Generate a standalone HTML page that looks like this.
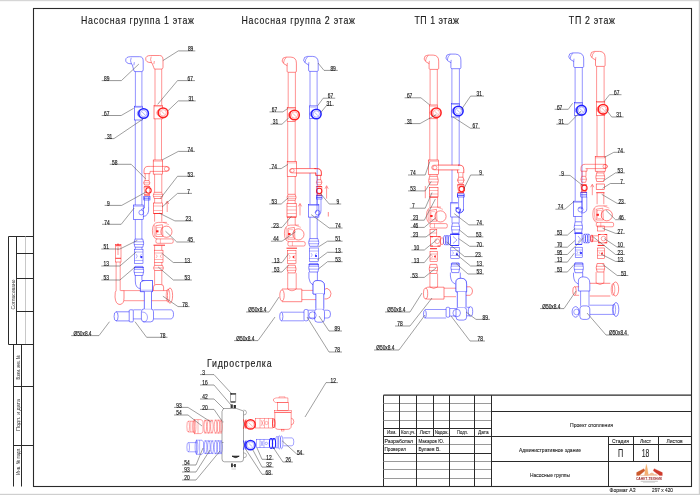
<!DOCTYPE html><html><head><meta charset="utf-8"><style>html,body{margin:0;padding:0;background:#fff;}svg{display:block;will-change:transform;}text{font-family:"Liberation Sans",sans-serif;}</style></head><body>
<svg width="700" height="495" viewBox="0 0 700 495">
<rect width="700" height="495" fill="#fff"/>
<rect x="0" y="0" width="700" height="1.2" stroke="none" stroke-width="0" fill="#d6d6d6"/>
<rect x="698.8" y="0" width="1.2" height="495" stroke="none" stroke-width="0" fill="#cfcfcf"/>
<rect x="0" y="493.8" width="700" height="1.2" stroke="none" stroke-width="0" fill="#cfcfcf"/>
<rect x="33.5" y="8.5" width="658" height="478" stroke="#2a2a2a" stroke-width="1.1" fill="none"/>
<path d="M 33.5 236.5 L 8.5 236.5 L 8.5 344.5 L 33.5 344.5" stroke="#2a2a2a" stroke-width="1" fill="none"/>
<line x1="16.5" y1="236.5" x2="16.5" y2="344.5" stroke="#2a2a2a" stroke-width="1"/>
<line x1="25.5" y1="236.5" x2="25.5" y2="344.5" stroke="#c8c8c8" stroke-width="1"/>
<line x1="16.5" y1="253.5" x2="33.5" y2="253.5" stroke="#2a2a2a" stroke-width="1"/>
<line x1="16.5" y1="278.5" x2="33.5" y2="278.5" stroke="#2a2a2a" stroke-width="1"/>
<line x1="16.5" y1="311.5" x2="33.5" y2="311.5" stroke="#2a2a2a" stroke-width="1"/>
<path d="M 33.5 344.5 L 13.5 344.5 L 13.5 486.5" stroke="#2a2a2a" stroke-width="1" fill="none"/>
<line x1="21.5" y1="344.5" x2="21.5" y2="486.5" stroke="#2a2a2a" stroke-width="1"/>
<line x1="13.5" y1="386.5" x2="33.5" y2="386.5" stroke="#2a2a2a" stroke-width="1"/>
<line x1="13.5" y1="445.5" x2="33.5" y2="445.5" stroke="#2a2a2a" stroke-width="1"/>
<text x="0" y="0" font-size="5.8" fill="#333" text-anchor="middle" textLength="29.8" lengthAdjust="spacingAndGlyphs" transform="translate(14.6,294.5) rotate(-90)">Согласовано</text>
<text x="0" y="0" font-size="5.8" fill="#333" text-anchor="middle" textLength="24.4" lengthAdjust="spacingAndGlyphs" transform="translate(19.6,367.2) rotate(-90)">Взам. инв. №</text>
<text x="0" y="0" font-size="5.8" fill="#333" text-anchor="middle" textLength="32" lengthAdjust="spacingAndGlyphs" transform="translate(19.6,415) rotate(-90)">Подп. и дата</text>
<text x="0" y="0" font-size="5.8" fill="#333" text-anchor="middle" textLength="27.2" lengthAdjust="spacingAndGlyphs" transform="translate(19.6,461.2) rotate(-90)">Инв. № подл.</text>
<line x1="383.5" y1="395.2" x2="691.5" y2="395.2" stroke="#2a2a2a" stroke-width="1.2"/>
<line x1="383.5" y1="395.2" x2="383.5" y2="486.5" stroke="#2a2a2a" stroke-width="1"/>
<line x1="383.5" y1="403.5" x2="491.5" y2="403.5" stroke="#9a9a9a" stroke-width="1"/>
<line x1="383.5" y1="411.5" x2="491.5" y2="411.5" stroke="#9a9a9a" stroke-width="1"/>
<line x1="383.5" y1="420.5" x2="491.5" y2="420.5" stroke="#9a9a9a" stroke-width="1"/>
<line x1="383.5" y1="428.5" x2="491.5" y2="428.5" stroke="#2a2a2a" stroke-width="1"/>
<line x1="383.5" y1="436.5" x2="491.5" y2="436.5" stroke="#2a2a2a" stroke-width="1"/>
<line x1="383.5" y1="444.5" x2="491.5" y2="444.5" stroke="#9a9a9a" stroke-width="1"/>
<line x1="383.5" y1="453.5" x2="491.5" y2="453.5" stroke="#2a2a2a" stroke-width="1"/>
<line x1="383.5" y1="461.5" x2="491.5" y2="461.5" stroke="#9a9a9a" stroke-width="1"/>
<line x1="383.5" y1="469.5" x2="491.5" y2="469.5" stroke="#9a9a9a" stroke-width="1"/>
<line x1="383.5" y1="478.5" x2="491.5" y2="478.5" stroke="#9a9a9a" stroke-width="1"/>
<line x1="399.5" y1="395.2" x2="399.5" y2="436.5" stroke="#2a2a2a" stroke-width="1"/>
<line x1="433.5" y1="395.2" x2="433.5" y2="436.5" stroke="#2a2a2a" stroke-width="1"/>
<line x1="416.5" y1="395.2" x2="416.5" y2="486.5" stroke="#2a2a2a" stroke-width="1"/>
<line x1="449.5" y1="395.2" x2="449.5" y2="486.5" stroke="#2a2a2a" stroke-width="1"/>
<line x1="474.5" y1="395.2" x2="474.5" y2="486.5" stroke="#2a2a2a" stroke-width="1"/>
<line x1="491.5" y1="395.2" x2="491.5" y2="486.5" stroke="#2a2a2a" stroke-width="1"/>
<line x1="491.5" y1="411.5" x2="691.5" y2="411.5" stroke="#2a2a2a" stroke-width="1"/>
<line x1="491.5" y1="436.5" x2="691.5" y2="436.5" stroke="#2a2a2a" stroke-width="1"/>
<line x1="608.5" y1="444.5" x2="691.5" y2="444.5" stroke="#2a2a2a" stroke-width="1"/>
<line x1="491.5" y1="461.5" x2="691.5" y2="461.5" stroke="#2a2a2a" stroke-width="1"/>
<line x1="608.5" y1="436.5" x2="608.5" y2="486.5" stroke="#2a2a2a" stroke-width="1"/>
<line x1="633.5" y1="436.5" x2="633.5" y2="461.5" stroke="#2a2a2a" stroke-width="1"/>
<line x1="658.5" y1="436.5" x2="658.5" y2="461.5" stroke="#2a2a2a" stroke-width="1"/>
<text x="386.95" y="434.4" font-size="5.6" text-anchor="start" fill="#222" font-weight="normal" textLength="9.5" lengthAdjust="spacingAndGlyphs" stroke="#222" stroke-width="0.1">Изм.</text>
<text x="401.05" y="434.4" font-size="5.6" text-anchor="start" fill="#222" font-weight="normal" textLength="14.5" lengthAdjust="spacingAndGlyphs" stroke="#222" stroke-width="0.1">Кол.уч.</text>
<text x="419.75" y="434.4" font-size="5.6" text-anchor="start" fill="#222" font-weight="normal" textLength="10.5" lengthAdjust="spacingAndGlyphs" stroke="#222" stroke-width="0.1">Лист</text>
<text x="434.7" y="434.4" font-size="5.6" text-anchor="start" fill="#222" font-weight="normal" textLength="14" lengthAdjust="spacingAndGlyphs" stroke="#222" stroke-width="0.1">№док.</text>
<text x="457" y="434.4" font-size="5.6" text-anchor="start" fill="#222" font-weight="normal" textLength="11" lengthAdjust="spacingAndGlyphs" stroke="#222" stroke-width="0.1">Подп.</text>
<text x="478.05" y="434.4" font-size="5.6" text-anchor="start" fill="#222" font-weight="normal" textLength="10.5" lengthAdjust="spacingAndGlyphs" stroke="#222" stroke-width="0.1">Дата</text>
<text x="384.5" y="443" font-size="5.6" text-anchor="start" fill="#222" font-weight="normal" textLength="28.5" lengthAdjust="spacingAndGlyphs" stroke="#222" stroke-width="0.1">Разработал</text>
<text x="418.5" y="443" font-size="5.6" text-anchor="start" fill="#222" font-weight="normal" textLength="25.5" lengthAdjust="spacingAndGlyphs" stroke="#222" stroke-width="0.1">Макаров Ю.</text>
<text x="384.5" y="451.2" font-size="5.6" text-anchor="start" fill="#222" font-weight="normal" textLength="21.5" lengthAdjust="spacingAndGlyphs" stroke="#222" stroke-width="0.1">Проверил</text>
<text x="418.5" y="451.2" font-size="5.6" text-anchor="start" fill="#222" font-weight="normal" textLength="22" lengthAdjust="spacingAndGlyphs" stroke="#222" stroke-width="0.1">Булаев В.</text>
<text x="570" y="426.6" font-size="5.6" text-anchor="start" fill="#222" font-weight="normal" textLength="43" lengthAdjust="spacingAndGlyphs" stroke="#222" stroke-width="0.1">Проект отопления</text>
<text x="519" y="451.5" font-size="5.6" text-anchor="start" fill="#222" font-weight="normal" textLength="62" lengthAdjust="spacingAndGlyphs" stroke="#222" stroke-width="0.1">Административное здание</text>
<text x="530" y="476.7" font-size="5.6" text-anchor="start" fill="#222" font-weight="normal" textLength="40" lengthAdjust="spacingAndGlyphs" stroke="#222" stroke-width="0.1">Насосные группы</text>
<text x="612" y="443" font-size="5.6" text-anchor="start" fill="#222" font-weight="normal" textLength="17" lengthAdjust="spacingAndGlyphs" stroke="#222" stroke-width="0.1">Стадия</text>
<text x="640" y="443" font-size="5.6" text-anchor="start" fill="#222" font-weight="normal" textLength="11" lengthAdjust="spacingAndGlyphs" stroke="#222" stroke-width="0.1">Лист</text>
<text x="666.6" y="443" font-size="5.6" text-anchor="start" fill="#222" font-weight="normal" textLength="16" lengthAdjust="spacingAndGlyphs" stroke="#222" stroke-width="0.1">Листов</text>
<text x="618" y="457.3" font-size="10" text-anchor="start" fill="#222" font-weight="normal" textLength="5.2" lengthAdjust="spacingAndGlyphs" stroke="#222" stroke-width="0.1">П</text>
<text x="641.7" y="457.3" font-size="10" text-anchor="start" fill="#222" font-weight="normal" textLength="7.6" lengthAdjust="spacingAndGlyphs" stroke="#222" stroke-width="0.1">18</text>
<text x="609.5" y="492.4" font-size="5.6" text-anchor="start" fill="#222" font-weight="normal" textLength="26" lengthAdjust="spacingAndGlyphs" stroke="#222" stroke-width="0.1">Формат А3</text>
<text x="652" y="492.4" font-size="5.6" text-anchor="start" fill="#222" font-weight="normal" textLength="21" lengthAdjust="spacingAndGlyphs" stroke="#222" stroke-width="0.1">297 x 420</text>
<path d="M 646.4 464.3 L 645.4 469 L 644.6 475.4 L 648.4 475.4 L 647.4 469 Z" stroke="#f0a860" stroke-width="0.3" fill="#f4b070"/>
<path d="M 636.6 472.6 L 643.9 468.7 L 644.9 470.8 L 639.2 475.6 L 636.6 475.6 Z" stroke="#c85028" stroke-width="0.3" fill="#cc5a2c"/>
<path d="M 662.3 472.6 L 654.2 468.7 L 653.3 470.8 L 659.6 475.6 L 662.3 475.6 Z" stroke="#c83428" stroke-width="0.3" fill="#d03a2c"/>
<path d="M 640 475.6 L 657.5 475.6 L 656 474.2 L 654.5 474.4 Q 652 471.4 649.5 474.2 L 648 474.6 Z" stroke="#eeb088" stroke-width="0.3" fill="#f2bc98"/>
<text x="636" y="479.6" font-size="3.6" text-anchor="start" fill="#9a2a2a" font-weight="bold" textLength="26" lengthAdjust="spacingAndGlyphs">САНКТ-ТЕХНИК</text>
<line x1="640.7" y1="481.3" x2="657.9" y2="481.3" stroke="#aaa" stroke-width="0.7"/>
<line x1="643" y1="482.4" x2="655" y2="482.4" stroke="#bbb" stroke-width="0.5"/>
<text x="101.25" y="24.4" font-size="11" fill="#1a1a1a" stroke="#1a1a1a" stroke-width="0.15" transform="scale(0.8 1)" textLength="141.25" lengthAdjust="spacing">Насосная группа 1 этаж</text>
<text x="301.75" y="24.4" font-size="11" fill="#1a1a1a" stroke="#1a1a1a" stroke-width="0.15" transform="scale(0.8 1)" textLength="142" lengthAdjust="spacing">Насосная группа 2 этаж</text>
<text x="518.12" y="24.5" font-size="11" fill="#1a1a1a" stroke="#1a1a1a" stroke-width="0.15" transform="scale(0.8 1)" textLength="55.62" lengthAdjust="spacing">ТП 1 этаж</text>
<text x="711" y="24.5" font-size="11" fill="#1a1a1a" stroke="#1a1a1a" stroke-width="0.15" transform="scale(0.8 1)" textLength="57.75" lengthAdjust="spacing">ТП 2 этаж</text>
<text x="258.75" y="366.6" font-size="11" fill="#1a1a1a" stroke="#1a1a1a" stroke-width="0.15" transform="scale(0.8 1)" textLength="80.75" lengthAdjust="spacing">Гидрострелка</text>
<path d="M 131.2 63.8 Q 125.7 63.8 125.7 60.1 Q 125.7 56.7 130.7 56.7 L 139.7 56.7 Q 143.2 56.7 143.2 60.9 L 143.2 69.8 Q 143.2 71.6 141.4 71.6 L 135 71.6 Q 133.7 71.6 133.7 69.8 L 132.3 64.9 Q 132 64 131.2 63.8" stroke="#2020ff" stroke-width="0.54" fill="none"/>
<path d="M 131.2 57.8 Q 129.8 60.7 131.5 64" stroke="#2020ff" stroke-width="0.48" fill="none"/>
<line x1="134.3" y1="62.2" x2="133.9" y2="65.3" stroke="#2020ff" stroke-width="0.48"/>
<line x1="135.4" y1="71.6" x2="135.4" y2="106.2" stroke="#2020ff" stroke-width="0.48"/>
<line x1="141.9" y1="71.6" x2="141.9" y2="106.2" stroke="#2020ff" stroke-width="0.48"/>
<rect x="134.5" y="106.2" width="8.1" height="13.8" stroke="#2020ff" stroke-width="0.54" fill="none"/>
<line x1="134.5" y1="107.4" x2="142.6" y2="107.4" stroke="#2020ff" stroke-width="0.34"/>
<circle cx="143.6" cy="113.5" r="4.8" stroke="#2020ff" stroke-width="1.56" fill="#fff"/>
<path d="M 139.6 109.9 Q 135.1 113.5 139.6 117.1" stroke="#2020ff" stroke-width="0.54" fill="none"/>
<path d="M 140.4 109.6 Q 136.6 113.5 140.4 117.4" stroke="#2020ff" stroke-width="0.41" fill="none"/>
<circle cx="143.6" cy="113.5" r="3.2" stroke="#2020ff" stroke-width="0.34" fill="none"/>
<line x1="142" y1="111.9" x2="145.4" y2="115.3" stroke="#2020ff" stroke-width="0.34"/>
<line x1="135.3" y1="120" x2="135.3" y2="205" stroke="#2020ff" stroke-width="0.48"/>
<line x1="141.9" y1="120" x2="141.9" y2="205" stroke="#2020ff" stroke-width="0.48"/>
<rect x="133.7" y="205" width="9.5" height="14.7" stroke="#2020ff" stroke-width="0.54" fill="none"/>
<line x1="133.7" y1="206.2" x2="143.2" y2="206.2" stroke="#2020ff" stroke-width="0.34"/>
<path d="M 144.5 197 L 144.5 208 M 148.6 197 L 148.6 207" stroke="#2020ff" stroke-width="0.48" fill="none"/>
<path d="M 148.6 207 Q 149.5 216 143 216.5 M 144.5 208 Q 143 209 141 209.5" stroke="#2020ff" stroke-width="0.54" fill="none"/>
<circle cx="141.3" cy="212.5" r="2.4" stroke="#2020ff" stroke-width="0.48" fill="none"/>
<line x1="135.3" y1="219.7" x2="135.3" y2="239.1" stroke="#2020ff" stroke-width="0.48"/>
<line x1="141.9" y1="219.7" x2="141.9" y2="239.1" stroke="#2020ff" stroke-width="0.48"/>
<path d="M 134.9 239.1 L 142.8 239.1 Q 144.6 243.15 142.8 247.2 L 134.9 247.2 Q 133.1 243.15 134.9 239.1 Z" stroke="#2020ff" stroke-width="0.54" fill="none"/>
<line x1="134.1" y1="241.8" x2="143.6" y2="241.8" stroke="#2020ff" stroke-width="0.41"/>
<line x1="134.1" y1="244.5" x2="143.6" y2="244.5" stroke="#2020ff" stroke-width="0.41"/>
<line x1="135.3" y1="247.2" x2="135.3" y2="249.2" stroke="#2020ff" stroke-width="0.48"/>
<line x1="141.9" y1="247.2" x2="141.9" y2="249.2" stroke="#2020ff" stroke-width="0.48"/>
<rect x="134.5" y="249.2" width="8.5" height="14.1" stroke="#2020ff" stroke-width="0.48" fill="none"/>
<path d="M 134.5 252 L 143 252 M 134.5 260.5 L 143 260.5 M 136 254 Q 138.5 256 136 258.5 M 141.5 254 Q 139 256 141.5 258.5" stroke="#2020ff" stroke-width="0.34" fill="none"/>
<circle cx="141.4" cy="257" r="1.1" stroke="#2020ff" stroke-width="0" fill="#2020ff"/>
<path d="M 134.9 266.4 L 142.8 266.4 Q 144.6 270.95 142.8 275.5 L 134.9 275.5 Q 133.1 270.95 134.9 266.4 Z" stroke="#2020ff" stroke-width="0.54" fill="none"/>
<line x1="134.1" y1="269.43" x2="143.6" y2="269.43" stroke="#2020ff" stroke-width="0.41"/>
<line x1="134.1" y1="272.47" x2="143.6" y2="272.47" stroke="#2020ff" stroke-width="0.41"/>
<line x1="133.9" y1="267.6" x2="143.8" y2="267.6" stroke="#2020ff" stroke-width="0.75"/>
<path d="M 135.3 275.5 L 135.3 281 Q 135.3 288.6 141 288.6 L 144.4 288.6" stroke="#2020ff" stroke-width="0.54" fill="none"/>
<path d="M 141.9 275.5 L 141.9 280.5 L 144.4 280.5" stroke="#2020ff" stroke-width="0.54" fill="none"/>
<path d="M 140.4 291.6 L 140.4 284 Q 140.4 280.5 146 280.5 L 152.5 280.5 L 152.5 291.6 Z" stroke="#2020ff" stroke-width="0.54" fill="none"/>
<line x1="140.4" y1="290.2" x2="152.5" y2="290.2" stroke="#2020ff" stroke-width="0.34"/>
<line x1="144.4" y1="291.6" x2="144.4" y2="308.8" stroke="#2020ff" stroke-width="0.48"/>
<line x1="151.5" y1="291.6" x2="151.5" y2="308.8" stroke="#2020ff" stroke-width="0.48"/>
<line x1="116.1" y1="311.8" x2="129.2" y2="311.8" stroke="#2020ff" stroke-width="0.54"/>
<line x1="116.1" y1="320.9" x2="129.2" y2="320.9" stroke="#2020ff" stroke-width="0.54"/>
<ellipse cx="116.1" cy="316.35" rx="2" ry="4.55" stroke="#2020ff" stroke-width="0.54" fill="none"/>
<rect x="129.2" y="309.8" width="4.1" height="12.1" stroke="#2020ff" stroke-width="0.54" fill="none" rx="1"/>
<line x1="133.3" y1="309.8" x2="141.4" y2="309.8" stroke="#2020ff" stroke-width="0.48"/>
<line x1="133.3" y1="318.9" x2="141.4" y2="318.9" stroke="#2020ff" stroke-width="0.48"/>
<rect x="141.4" y="308.8" width="12.1" height="13.1" stroke="#2020ff" stroke-width="0.54" fill="none" rx="3"/>
<path d="M 142 312 Q 147 312 147.5 317 Q 147.5 322 143 322" stroke="#2020ff" stroke-width="0.41" fill="none"/>
<line x1="153.5" y1="309.8" x2="170.5" y2="309.8" stroke="#2020ff" stroke-width="0.48"/>
<line x1="153.5" y1="318.9" x2="170.5" y2="318.9" stroke="#2020ff" stroke-width="0.48"/>
<path d="M 170.5 309.8 Q 173.5 309.8 173.5 314.3 Q 173.5 318.9 170.5 318.9" stroke="#2020ff" stroke-width="0.54" fill="none"/>
<path d="M 151.2 62.6 Q 145.7 62.6 145.7 58.9 Q 145.7 55.5 150.7 55.5 L 159.5 55.5 Q 163 55.5 163 59.7 L 163 67.3 Q 163 69.1 161.2 69.1 L 155 69.1 Q 153.7 69.1 153.7 67.3 L 152.3 63.7 Q 152 62.8 151.2 62.6" stroke="#ff2020" stroke-width="0.54" fill="none"/>
<path d="M 151.2 56.6 Q 149.8 59.5 151.5 62.8" stroke="#ff2020" stroke-width="0.48" fill="none"/>
<line x1="154.3" y1="61" x2="153.9" y2="64.1" stroke="#ff2020" stroke-width="0.48"/>
<line x1="155" y1="69.1" x2="155" y2="105.4" stroke="#ff2020" stroke-width="0.48"/>
<line x1="161.7" y1="69.1" x2="161.7" y2="105.4" stroke="#ff2020" stroke-width="0.48"/>
<rect x="154" y="105.4" width="8.6" height="13.5" stroke="#ff2020" stroke-width="0.54" fill="none"/>
<line x1="154" y1="106.6" x2="162.6" y2="106.6" stroke="#ff2020" stroke-width="0.34"/>
<circle cx="163.1" cy="112.8" r="4.8" stroke="#ff2020" stroke-width="1.56" fill="#fff"/>
<path d="M 159.1 109.2 Q 154.6 112.8 159.1 116.4" stroke="#ff2020" stroke-width="0.54" fill="none"/>
<path d="M 159.9 108.9 Q 156.1 112.8 159.9 116.7" stroke="#ff2020" stroke-width="0.41" fill="none"/>
<circle cx="163.1" cy="112.8" r="3.2" stroke="#ff2020" stroke-width="0.34" fill="none"/>
<line x1="161.5" y1="111.2" x2="164.9" y2="114.6" stroke="#ff2020" stroke-width="0.34"/>
<line x1="155" y1="118.9" x2="155" y2="160" stroke="#ff2020" stroke-width="0.48"/>
<line x1="161.5" y1="118.9" x2="161.5" y2="160" stroke="#ff2020" stroke-width="0.48"/>
<rect x="153.2" y="160" width="9.5" height="14.1" stroke="#ff2020" stroke-width="0.54" fill="none"/>
<line x1="153.2" y1="161.2" x2="162.7" y2="161.2" stroke="#ff2020" stroke-width="0.34"/>
<line x1="150.5" y1="166.4" x2="166" y2="166.4" stroke="#ff2020" stroke-width="0.48"/>
<line x1="150.5" y1="171.4" x2="166" y2="171.4" stroke="#ff2020" stroke-width="0.48"/>
<path d="M 166 166.4 Q 169.5 166.4 169.5 168.9 Q 169.5 171.4 166 171.4" stroke="#ff2020" stroke-width="0.54" fill="none"/>
<circle cx="166.5" cy="168.9" r="2.2" stroke="#ff2020" stroke-width="0.41" fill="none"/>
<path d="M 150.5 166.4 L 148 166.4 Q 144 166.4 144 171 L 144 173.6 L 150 173.6 L 150 171.4 L 150.5 171.4" stroke="#ff2020" stroke-width="0.54" fill="none"/>
<line x1="145.2" y1="173.6" x2="145.2" y2="180.6" stroke="#ff2020" stroke-width="0.48"/>
<line x1="149.1" y1="173.6" x2="149.1" y2="180.6" stroke="#ff2020" stroke-width="0.48"/>
<path d="M 144.6 180.6 L 149 180.6 Q 150.8 182.8 149 185 L 144.6 185 Q 142.8 182.8 144.6 180.6 Z" stroke="#ff2020" stroke-width="0.54" fill="none"/>
<line x1="143.8" y1="182.8" x2="149.8" y2="182.8" stroke="#ff2020" stroke-width="0.41"/>
<line x1="144" y1="186.8" x2="150" y2="186.8" stroke="#ff2020" stroke-width="1.02"/>
<circle cx="148.5" cy="190.5" r="2.7" stroke="#ff2020" stroke-width="1.09" fill="none"/>
<path d="M 144 186.8 L 145 195 M 150 186.8 L 149 195" stroke="#ff2020" stroke-width="0.41" fill="none"/>
<line x1="144" y1="195" x2="150" y2="195" stroke="#ff2020" stroke-width="1.02"/>
<rect x="143.8" y="196.4" width="6.2" height="3.6" stroke="#2020ff" stroke-width="0.54" fill="none"/>
<line x1="143.8" y1="198.2" x2="150" y2="198.2" stroke="#2020ff" stroke-width="0.68"/>
<line x1="154.6" y1="174.1" x2="154.6" y2="192.3" stroke="#ff2020" stroke-width="0.48"/>
<line x1="161.8" y1="174.1" x2="161.8" y2="192.3" stroke="#ff2020" stroke-width="0.48"/>
<path d="M 154.2 192.3 L 161.7 192.3 Q 163.5 195.4 161.7 198.5 L 154.2 198.5 Q 152.4 195.4 154.2 192.3 Z" stroke="#ff2020" stroke-width="0.54" fill="none"/>
<line x1="153.4" y1="194.37" x2="162.5" y2="194.37" stroke="#ff2020" stroke-width="0.41"/>
<line x1="153.4" y1="196.43" x2="162.5" y2="196.43" stroke="#ff2020" stroke-width="0.41"/>
<line x1="154.6" y1="198.5" x2="154.6" y2="203" stroke="#ff2020" stroke-width="0.48"/>
<line x1="161.8" y1="198.5" x2="161.8" y2="203" stroke="#ff2020" stroke-width="0.48"/>
<rect x="153.6" y="203" width="8.8" height="10.5" stroke="#ff2020" stroke-width="0.54" fill="none"/>
<path d="M 153.6 206 L 162.4 206 M 153.6 210.5 L 162.4 210.5" stroke="#ff2020" stroke-width="0.34" fill="none"/>
<line x1="153.6" y1="213.5" x2="162.4" y2="213.5" stroke="#ff2020" stroke-width="0.82"/>
<line x1="167.2" y1="202" x2="167.2" y2="212" stroke="#ff2020" stroke-width="0.48"/>
<path d="M 165.6 204 L 167.2 201 L 168.8 204" stroke="#ff2020" stroke-width="0.48" fill="none"/>
<line x1="154.6" y1="213.5" x2="154.6" y2="221.7" stroke="#ff2020" stroke-width="0.48"/>
<line x1="161.8" y1="213.5" x2="161.8" y2="221.7" stroke="#ff2020" stroke-width="0.48"/>
<path d="M 166.9 222.4 L 158.4 222.4 Q 152.4 222.4 152.4 230.7 Q 152.4 238.9 157.4 238.9" stroke="#ff2020" stroke-width="0.48" fill="none"/>
<path d="M 154.4 224.7 Q 153.4 231.7 154.9 237.7" stroke="#ff2020" stroke-width="0.34" fill="none"/>
<path d="M 155.9 225.7 L 162.4 224.7 L 162.9 236.5 L 155.9 236.5 Z" stroke="#ff2020" stroke-width="0.48" fill="none"/>
<rect x="156.9" y="227.2" width="4.5" height="7.5" stroke="#ff2020" stroke-width="0.27" fill="none"/>
<rect x="156.1" y="230.3" width="2.4" height="2" stroke="#ff2020" stroke-width="0" fill="#ff2020"/>
<circle cx="166.4" cy="231.7" r="5.6" stroke="#ff2020" stroke-width="0.54" fill="none"/>
<line x1="163.2" y1="222.4" x2="168.9" y2="224.7" stroke="#ff2020" stroke-width="0.34"/>
<rect x="155.9" y="238.9" width="17.3" height="4.4" stroke="#ff2020" stroke-width="0.48" fill="none" rx="1.5"/>
<line x1="160.4" y1="238.9" x2="160.4" y2="243.3" stroke="#ff2020" stroke-width="0.34"/>
<line x1="162.9" y1="228.2" x2="169.9" y2="235.2" stroke="#505050" stroke-width="0"/>
<line x1="153.5" y1="245.2" x2="165" y2="245.2" stroke="#ff2020" stroke-width="0.95"/>
<line x1="154.6" y1="245.5" x2="154.6" y2="250.2" stroke="#ff2020" stroke-width="0.48"/>
<line x1="161.8" y1="245.5" x2="161.8" y2="250.2" stroke="#ff2020" stroke-width="0.48"/>
<rect x="154.5" y="250.2" width="8.5" height="12.1" stroke="#ff2020" stroke-width="0.48" fill="none"/>
<path d="M 154.5 253 L 163 253 M 154.5 259.5 L 163 259.5 M 156 254.5 Q 158.5 256 156 258 M 161.5 254.5 Q 159 256 161.5 258" stroke="#ff2020" stroke-width="0.34" fill="none"/>
<line x1="154.6" y1="262.3" x2="154.6" y2="265.4" stroke="#ff2020" stroke-width="0.48"/>
<line x1="161.8" y1="262.3" x2="161.8" y2="265.4" stroke="#ff2020" stroke-width="0.48"/>
<path d="M 154.5 265.4 L 162.5 265.4 Q 164.3 267.95 162.5 270.5 L 154.5 270.5 Q 152.7 267.95 154.5 265.4 Z" stroke="#ff2020" stroke-width="0.54" fill="none"/>
<line x1="153.7" y1="267.95" x2="163.3" y2="267.95" stroke="#ff2020" stroke-width="0.41"/>
<line x1="154.6" y1="270.5" x2="154.6" y2="284.5" stroke="#ff2020" stroke-width="0.48"/>
<line x1="161.8" y1="270.5" x2="161.8" y2="284.5" stroke="#ff2020" stroke-width="0.48"/>
<path d="M 153.5 290.6 L 153.5 287 Q 153.5 284.5 156 284.5 L 161 284.5 Q 163.6 284.5 163.6 287 L 163.6 290.6" stroke="#ff2020" stroke-width="0.54" fill="none"/>
<line x1="124" y1="290.6" x2="167.6" y2="290.6" stroke="#ff2020" stroke-width="0.48"/>
<line x1="124" y1="300.7" x2="167.6" y2="300.7" stroke="#ff2020" stroke-width="0.48"/>
<path d="M 124 290.6 L 120.5 290.6 M 116.1 290.6 Q 115 291 115 297 Q 115.5 304.5 120 304.5 Q 124 304 124 298 L 124 290.6" stroke="#ff2020" stroke-width="0.54" fill="none"/>
<ellipse cx="170" cy="295.6" rx="2.6" ry="7.6" stroke="#ff2020" stroke-width="0.54" fill="none"/>
<ellipse cx="168" cy="295.6" rx="1.8" ry="6.6" stroke="#ff2020" stroke-width="0.41" fill="none"/>
<line x1="116.1" y1="262" x2="116.1" y2="290.6" stroke="#ff2020" stroke-width="0.48"/>
<line x1="120.2" y1="262" x2="120.2" y2="290.6" stroke="#ff2020" stroke-width="0.48"/>
<rect x="115.5" y="244.5" width="5.5" height="17.5" stroke="#ff2020" stroke-width="0.48" fill="none"/>
<line x1="115.5" y1="245.2" x2="121" y2="245.2" stroke="#ff2020" stroke-width="0.88"/>
<line x1="115.5" y1="258.3" x2="121" y2="258.3" stroke="#ff2020" stroke-width="0.88"/>
<line x1="118" y1="249" x2="118" y2="255" stroke="#ff2020" stroke-width="0.48"/>
<line x1="118" y1="244.5" x2="118" y2="250" stroke="#ff2020" stroke-width="0.48"/>
<path d="M 116.4 246.5 L 118 243.5 L 119.6 246.5" stroke="#ff2020" stroke-width="0.48" fill="none"/>
<path d="M 140.4 291.6 L 140.4 284 Q 140.4 280.5 146 280.5 L 152.5 280.5 L 152.5 291.6 Z" stroke="#2020ff" stroke-width="0.54" fill="#fff"/>
<line x1="140.4" y1="290.2" x2="152.5" y2="290.2" stroke="#2020ff" stroke-width="0.34"/>
<rect x="144.4" y="291.6" width="7.1" height="17.2" stroke="none" stroke-width="0" fill="#fff"/>
<line x1="144.4" y1="291.6" x2="144.4" y2="308.8" stroke="#2020ff" stroke-width="0.48"/>
<line x1="151.5" y1="291.6" x2="151.5" y2="308.8" stroke="#2020ff" stroke-width="0.48"/>
<line x1="101.7" y1="80.6" x2="121.4" y2="80.6" stroke="#505050" stroke-width="0.6"/>
<line x1="121.4" y1="80.6" x2="138.9" y2="64" stroke="#505050" stroke-width="0.55"/>
<text x="104" y="80.8" font-size="6.6" fill="#1a1a1a" stroke="#1a1a1a" stroke-width="0.18" textLength="5.4" lengthAdjust="spacingAndGlyphs">89</text>
<line x1="178.3" y1="50.9" x2="195.3" y2="50.9" stroke="#505050" stroke-width="0.6"/>
<line x1="178.3" y1="50.9" x2="162.9" y2="60.6" stroke="#505050" stroke-width="0.55"/>
<text x="187.9" y="51.1" font-size="6.6" fill="#1a1a1a" stroke="#1a1a1a" stroke-width="0.18" textLength="5.4" lengthAdjust="spacingAndGlyphs">89</text>
<line x1="177.5" y1="80.6" x2="195" y2="80.6" stroke="#505050" stroke-width="0.6"/>
<line x1="177.5" y1="80.6" x2="157.7" y2="104.3" stroke="#505050" stroke-width="0.55"/>
<text x="187.6" y="80.8" font-size="6.6" fill="#1a1a1a" stroke="#1a1a1a" stroke-width="0.18" textLength="5.4" lengthAdjust="spacingAndGlyphs">67</text>
<line x1="178.3" y1="100.9" x2="195.8" y2="100.9" stroke="#505050" stroke-width="0.6"/>
<line x1="178.3" y1="100.9" x2="168" y2="110.7" stroke="#505050" stroke-width="0.55"/>
<text x="188.4" y="101.1" font-size="6.6" fill="#1a1a1a" stroke="#1a1a1a" stroke-width="0.18" textLength="5.4" lengthAdjust="spacingAndGlyphs">31</text>
<line x1="101.7" y1="115.5" x2="121.2" y2="115.5" stroke="#505050" stroke-width="0.6"/>
<line x1="121.2" y1="115.5" x2="133.7" y2="108.3" stroke="#505050" stroke-width="0.55"/>
<text x="104" y="115.7" font-size="6.6" fill="#1a1a1a" stroke="#1a1a1a" stroke-width="0.18" textLength="5.4" lengthAdjust="spacingAndGlyphs">67</text>
<line x1="104.6" y1="138.6" x2="114" y2="138.6" stroke="#505050" stroke-width="0.6"/>
<line x1="114" y1="138.6" x2="143.2" y2="118.9" stroke="#505050" stroke-width="0.55"/>
<text x="106.9" y="138.8" font-size="6.6" fill="#1a1a1a" stroke="#1a1a1a" stroke-width="0.18" textLength="5.4" lengthAdjust="spacingAndGlyphs">31</text>
<line x1="178.3" y1="151.4" x2="195" y2="151.4" stroke="#505050" stroke-width="0.6"/>
<line x1="178.3" y1="151.4" x2="162" y2="160" stroke="#505050" stroke-width="0.55"/>
<text x="187.6" y="151.6" font-size="6.6" fill="#1a1a1a" stroke="#1a1a1a" stroke-width="0.18" textLength="5.4" lengthAdjust="spacingAndGlyphs">74</text>
<line x1="109.7" y1="164.3" x2="131.2" y2="164.3" stroke="#505050" stroke-width="0.6"/>
<line x1="131.2" y1="164.3" x2="145.7" y2="178.9" stroke="#505050" stroke-width="0.55"/>
<text x="112" y="164.5" font-size="6.6" fill="#1a1a1a" stroke="#1a1a1a" stroke-width="0.18" textLength="5.4" lengthAdjust="spacingAndGlyphs">58</text>
<line x1="177.5" y1="176.3" x2="195" y2="176.3" stroke="#505050" stroke-width="0.6"/>
<line x1="177.5" y1="176.3" x2="160.3" y2="198.6" stroke="#505050" stroke-width="0.55"/>
<text x="187.6" y="176.5" font-size="6.6" fill="#1a1a1a" stroke="#1a1a1a" stroke-width="0.18" textLength="5.4" lengthAdjust="spacingAndGlyphs">53</text>
<line x1="104.6" y1="205.4" x2="121.7" y2="205.4" stroke="#505050" stroke-width="0.6"/>
<line x1="121.7" y1="205.4" x2="146.6" y2="191.7" stroke="#505050" stroke-width="0.55"/>
<text x="106.9" y="205.6" font-size="6.6" fill="#1a1a1a" stroke="#1a1a1a" stroke-width="0.18" textLength="2.7" lengthAdjust="spacingAndGlyphs">9</text>
<line x1="177.5" y1="193.4" x2="192" y2="193.4" stroke="#505050" stroke-width="0.6"/>
<line x1="177.5" y1="193.4" x2="162" y2="207.1" stroke="#505050" stroke-width="0.55"/>
<text x="187.3" y="193.6" font-size="6.6" fill="#1a1a1a" stroke="#1a1a1a" stroke-width="0.18" textLength="2.7" lengthAdjust="spacingAndGlyphs">7</text>
<line x1="174.9" y1="220.9" x2="193" y2="220.9" stroke="#505050" stroke-width="0.6"/>
<line x1="174.9" y1="220.9" x2="159.4" y2="213.2" stroke="#505050" stroke-width="0.55"/>
<text x="185.6" y="221.1" font-size="6.6" fill="#1a1a1a" stroke="#1a1a1a" stroke-width="0.18" textLength="5.4" lengthAdjust="spacingAndGlyphs">23</text>
<line x1="102" y1="224.3" x2="121.2" y2="224.3" stroke="#505050" stroke-width="0.6"/>
<line x1="121.2" y1="224.3" x2="134.2" y2="208" stroke="#505050" stroke-width="0.55"/>
<text x="104.3" y="224.5" font-size="6.6" fill="#1a1a1a" stroke="#1a1a1a" stroke-width="0.18" textLength="5.4" lengthAdjust="spacingAndGlyphs">74</text>
<line x1="176.8" y1="242" x2="195" y2="242" stroke="#505050" stroke-width="0.6"/>
<line x1="176.8" y1="242" x2="165.5" y2="231.2" stroke="#505050" stroke-width="0.55"/>
<text x="187.6" y="242.2" font-size="6.6" fill="#1a1a1a" stroke="#1a1a1a" stroke-width="0.18" textLength="5.4" lengthAdjust="spacingAndGlyphs">45</text>
<line x1="101.3" y1="249" x2="119.9" y2="249" stroke="#505050" stroke-width="0.6"/>
<line x1="119.9" y1="249" x2="137.3" y2="240.4" stroke="#505050" stroke-width="0.55"/>
<text x="103.6" y="249.2" font-size="6.6" fill="#1a1a1a" stroke="#1a1a1a" stroke-width="0.18" textLength="5.4" lengthAdjust="spacingAndGlyphs">51</text>
<line x1="101.3" y1="266" x2="119.9" y2="266" stroke="#505050" stroke-width="0.6"/>
<line x1="119.9" y1="266" x2="136.2" y2="252" stroke="#505050" stroke-width="0.55"/>
<text x="103.6" y="266.2" font-size="6.6" fill="#1a1a1a" stroke="#1a1a1a" stroke-width="0.18" textLength="5.4" lengthAdjust="spacingAndGlyphs">13</text>
<line x1="101.3" y1="280" x2="119.9" y2="280" stroke="#505050" stroke-width="0.6"/>
<line x1="119.9" y1="280" x2="135" y2="267.1" stroke="#505050" stroke-width="0.55"/>
<text x="103.6" y="280.2" font-size="6.6" fill="#1a1a1a" stroke="#1a1a1a" stroke-width="0.18" textLength="5.4" lengthAdjust="spacingAndGlyphs">53</text>
<line x1="173.3" y1="262.5" x2="191.9" y2="262.5" stroke="#505050" stroke-width="0.6"/>
<line x1="173.3" y1="262.5" x2="161.7" y2="253.2" stroke="#505050" stroke-width="0.55"/>
<text x="184.5" y="262.7" font-size="6.6" fill="#1a1a1a" stroke="#1a1a1a" stroke-width="0.18" textLength="5.4" lengthAdjust="spacingAndGlyphs">13</text>
<line x1="173.3" y1="280" x2="191.9" y2="280" stroke="#505050" stroke-width="0.6"/>
<line x1="173.3" y1="280" x2="158.2" y2="267" stroke="#505050" stroke-width="0.55"/>
<text x="184.5" y="280.2" font-size="6.6" fill="#1a1a1a" stroke="#1a1a1a" stroke-width="0.18" textLength="5.4" lengthAdjust="spacingAndGlyphs">53</text>
<line x1="178" y1="306.6" x2="189.6" y2="306.6" stroke="#505050" stroke-width="0.6"/>
<line x1="178" y1="306.6" x2="162.9" y2="296.2" stroke="#505050" stroke-width="0.55"/>
<text x="182.2" y="306.8" font-size="6.6" fill="#1a1a1a" stroke="#1a1a1a" stroke-width="0.18" textLength="5.4" lengthAdjust="spacingAndGlyphs">78</text>
<line x1="146.6" y1="337.3" x2="167.5" y2="337.3" stroke="#505050" stroke-width="0.6"/>
<line x1="146.6" y1="337.3" x2="135" y2="321.7" stroke="#505050" stroke-width="0.55"/>
<text x="160.1" y="337.5" font-size="6.6" fill="#1a1a1a" stroke="#1a1a1a" stroke-width="0.18" textLength="5.4" lengthAdjust="spacingAndGlyphs">78</text>
<line x1="71.2" y1="335.6" x2="99" y2="335.6" stroke="#505050" stroke-width="0.6"/>
<line x1="99" y1="335.6" x2="109.5" y2="321.7" stroke="#505050" stroke-width="0.55"/>
<text x="73.5" y="335.8" font-size="6.6" fill="#1a1a1a" stroke="#1a1a1a" stroke-width="0.18" textLength="18" lengthAdjust="spacingAndGlyphs">Ø50x8.4</text>
<path d="M 287.1 71.3 L 287.1 65.6 Q 283.1 64.1 282.1 61.1 Q 282.1 57.1 286.1 57.1 L 290.9 57.1 Q 296.4 57.4 296.4 63.1 L 296.4 71.3 Q 296.4 72.3 294.9 72.3 L 288.6 72.3 Q 287.1 72.3 287.1 71.3" stroke="#ff2020" stroke-width="0.54" fill="none"/>
<path d="M 286.3 57.4 Q 283.7 59.6 283.5 63.1" stroke="#ff2020" stroke-width="0.48" fill="none"/>
<line x1="287.4" y1="62.9" x2="287.1" y2="65.9" stroke="#ff2020" stroke-width="0.48"/>
<line x1="288.2" y1="72.3" x2="288.2" y2="107.6" stroke="#ff2020" stroke-width="0.48"/>
<line x1="295.4" y1="72.3" x2="295.4" y2="107.6" stroke="#ff2020" stroke-width="0.48"/>
<rect x="287.2" y="107.6" width="8.5" height="13.7" stroke="#ff2020" stroke-width="0.54" fill="none"/>
<line x1="287.2" y1="108.8" x2="295.7" y2="108.8" stroke="#ff2020" stroke-width="0.34"/>
<circle cx="294.5" cy="115" r="4.8" stroke="#ff2020" stroke-width="1.56" fill="#fff"/>
<path d="M 290.5 111.4 Q 286 115 290.5 118.6" stroke="#ff2020" stroke-width="0.54" fill="none"/>
<path d="M 291.3 111.1 Q 287.5 115 291.3 118.9" stroke="#ff2020" stroke-width="0.41" fill="none"/>
<circle cx="294.5" cy="115" r="3.2" stroke="#ff2020" stroke-width="0.34" fill="none"/>
<line x1="292.9" y1="113.4" x2="296.3" y2="116.8" stroke="#ff2020" stroke-width="0.34"/>
<line x1="287.7" y1="121.3" x2="287.7" y2="161.7" stroke="#ff2020" stroke-width="0.48"/>
<line x1="295.2" y1="121.3" x2="295.2" y2="161.7" stroke="#ff2020" stroke-width="0.48"/>
<rect x="287.2" y="161.7" width="9.4" height="14.6" stroke="#ff2020" stroke-width="0.54" fill="none"/>
<line x1="287.2" y1="162.9" x2="296.6" y2="162.9" stroke="#ff2020" stroke-width="0.34"/>
<line x1="292" y1="168.6" x2="316" y2="168.6" stroke="#ff2020" stroke-width="0.48"/>
<line x1="292" y1="172.9" x2="316" y2="172.9" stroke="#ff2020" stroke-width="0.48"/>
<path d="M 292 168.6 Q 289.5 168.6 289.5 170.7 Q 289.5 172.9 292 172.9" stroke="#ff2020" stroke-width="0.54" fill="none"/>
<circle cx="292.3" cy="170.5" r="1.9" stroke="#ff2020" stroke-width="0.41" fill="none"/>
<path d="M 314 168.6 L 317 168.6 Q 321.4 168.6 321.4 173 L 321.4 175.4 L 315.8 175.4 L 315.8 172.9" stroke="#ff2020" stroke-width="0.54" fill="none"/>
<line x1="317.2" y1="175.4" x2="317.2" y2="179.7" stroke="#ff2020" stroke-width="0.48"/>
<line x1="320.6" y1="175.4" x2="320.6" y2="179.7" stroke="#ff2020" stroke-width="0.48"/>
<path d="M 317.3 179.7 L 321 179.7 Q 322.8 182.3 321 184.9 L 317.3 184.9 Q 315.5 182.3 317.3 179.7 Z" stroke="#ff2020" stroke-width="0.54" fill="none"/>
<line x1="316.5" y1="182.3" x2="321.8" y2="182.3" stroke="#ff2020" stroke-width="0.41"/>
<line x1="316.3" y1="186.6" x2="322" y2="186.6" stroke="#ff2020" stroke-width="1.02"/>
<circle cx="319.2" cy="190.9" r="2.7" stroke="#ff2020" stroke-width="1.09" fill="none"/>
<path d="M 316.3 186.6 L 317.3 195.2 M 322 186.6 L 321 195.2" stroke="#ff2020" stroke-width="0.41" fill="none"/>
<line x1="316.3" y1="195.2" x2="322" y2="195.2" stroke="#ff2020" stroke-width="1.02"/>
<rect x="316.3" y="195.8" width="5.7" height="3.2" stroke="#2020ff" stroke-width="0.54" fill="none"/>
<line x1="316.3" y1="197.4" x2="322" y2="197.4" stroke="#2020ff" stroke-width="0.68"/>
<line x1="317" y1="199" x2="317" y2="210" stroke="#2020ff" stroke-width="0.48"/>
<line x1="321" y1="199" x2="321" y2="210" stroke="#2020ff" stroke-width="0.48"/>
<path d="M 321 210 Q 321 216.5 315 216.5 M 317 210 Q 317 212.5 315 212.5" stroke="#2020ff" stroke-width="0.54" fill="none"/>
<circle cx="317.5" cy="212.5" r="2.3" stroke="#2020ff" stroke-width="0.48" fill="none"/>
<line x1="326.6" y1="186.7" x2="326.6" y2="198.6" stroke="#ff2020" stroke-width="0.48"/>
<path d="M 325 188.7 L 326.6 185.7 L 328.2 188.7" stroke="#ff2020" stroke-width="0.48" fill="none"/>
<line x1="287.7" y1="176.3" x2="287.7" y2="194.3" stroke="#ff2020" stroke-width="0.48"/>
<line x1="295.2" y1="176.3" x2="295.2" y2="194.3" stroke="#ff2020" stroke-width="0.48"/>
<path d="M 288 194.3 L 295.2 194.3 Q 297 197.3 295.2 200.3 L 288 200.3 Q 286.2 197.3 288 194.3 Z" stroke="#ff2020" stroke-width="0.54" fill="none"/>
<line x1="287.2" y1="196.3" x2="296" y2="196.3" stroke="#ff2020" stroke-width="0.41"/>
<line x1="287.2" y1="198.3" x2="296" y2="198.3" stroke="#ff2020" stroke-width="0.41"/>
<line x1="287.7" y1="200.3" x2="287.7" y2="203.4" stroke="#ff2020" stroke-width="0.48"/>
<line x1="295.2" y1="200.3" x2="295.2" y2="203.4" stroke="#ff2020" stroke-width="0.48"/>
<rect x="287" y="203.4" width="9.2" height="13.7" stroke="#ff2020" stroke-width="0.54" fill="none"/>
<path d="M 287 206.5 L 296.2 206.5 M 287 210 L 296.2 210 M 287 213.5 L 296.2 213.5" stroke="#ff2020" stroke-width="0.34" fill="none"/>
<line x1="287" y1="217" x2="296.2" y2="217" stroke="#ff2020" stroke-width="0.82"/>
<line x1="300" y1="204.4" x2="300" y2="215.4" stroke="#ff2020" stroke-width="0.48"/>
<path d="M 298.4 206.4 L 300 203.4 L 301.6 206.4" stroke="#ff2020" stroke-width="0.48" fill="none"/>
<line x1="328.3" y1="212" x2="328.3" y2="216.5" stroke="#ff2020" stroke-width="0.54"/>
<line x1="287.7" y1="217" x2="287.7" y2="224.9" stroke="#ff2020" stroke-width="0.48"/>
<line x1="295.2" y1="217" x2="295.2" y2="224.9" stroke="#ff2020" stroke-width="0.48"/>
<path d="M 298.9 225.1 L 290.4 225.1 Q 284.4 225.1 284.4 233.4 Q 284.4 241.6 289.4 241.6" stroke="#ff2020" stroke-width="0.48" fill="none"/>
<path d="M 286.4 227.4 Q 285.4 234.4 286.9 240.4" stroke="#ff2020" stroke-width="0.34" fill="none"/>
<path d="M 287.9 228.4 L 294.4 227.4 L 294.9 239.2 L 287.9 239.2 Z" stroke="#ff2020" stroke-width="0.48" fill="none"/>
<rect x="288.9" y="229.9" width="4.5" height="7.5" stroke="#ff2020" stroke-width="0.27" fill="none"/>
<rect x="288.1" y="233" width="2.4" height="2" stroke="#ff2020" stroke-width="0" fill="#ff2020"/>
<circle cx="298.4" cy="234.4" r="5.6" stroke="#ff2020" stroke-width="0.54" fill="none"/>
<line x1="295.2" y1="225.1" x2="300.9" y2="227.4" stroke="#ff2020" stroke-width="0.34"/>
<rect x="287.9" y="241.6" width="17.3" height="4.4" stroke="#ff2020" stroke-width="0.48" fill="none" rx="1.5"/>
<line x1="292.4" y1="241.6" x2="292.4" y2="246" stroke="#ff2020" stroke-width="0.34"/>
<line x1="294.9" y1="230.9" x2="301.9" y2="237.9" stroke="#505050" stroke-width="0"/>
<line x1="286.5" y1="248.2" x2="297" y2="248.2" stroke="#ff2020" stroke-width="0.95"/>
<rect x="287.5" y="250.6" width="8.5" height="12.8" stroke="#ff2020" stroke-width="0.48" fill="none"/>
<path d="M 287.5 253.5 L 296 253.5 M 287.5 260.5 L 296 260.5 M 289 255 Q 291.5 257 289 259 M 294.5 255 Q 292 257 294.5 259" stroke="#ff2020" stroke-width="0.34" fill="none"/>
<circle cx="293.5" cy="257" r="1" stroke="#ff2020" stroke-width="0" fill="#ff2020"/>
<path d="M 288 265.2 L 295.2 265.2 Q 297 269.05 295.2 272.9 L 288 272.9 Q 286.2 269.05 288 265.2 Z" stroke="#ff2020" stroke-width="0.54" fill="none"/>
<line x1="287.2" y1="267.77" x2="296" y2="267.77" stroke="#ff2020" stroke-width="0.41"/>
<line x1="287.2" y1="270.33" x2="296" y2="270.33" stroke="#ff2020" stroke-width="0.41"/>
<line x1="287.7" y1="272.9" x2="287.7" y2="286.2" stroke="#ff2020" stroke-width="0.48"/>
<line x1="296.2" y1="272.9" x2="296.2" y2="286.2" stroke="#ff2020" stroke-width="0.48"/>
<path d="M 287.7 286.2 L 287.7 289 Q 292 292.5 296.2 289 L 296.2 286.2" stroke="#ff2020" stroke-width="0.48" fill="none"/>
<ellipse cx="282" cy="295.4" rx="2.2" ry="5.7" stroke="#ff2020" stroke-width="0.54" fill="none"/>
<path d="M 282 289 L 301.8 289 L 301.8 301.7 L 282 301.7" stroke="#ff2020" stroke-width="0.54" fill="none"/>
<line x1="301.8" y1="290.4" x2="316" y2="290.4" stroke="#ff2020" stroke-width="0.48"/>
<line x1="301.8" y1="299.6" x2="316" y2="299.6" stroke="#ff2020" stroke-width="0.48"/>
<path d="M 324.5 289.5 L 327 288.3 Q 331 290 331 293.6 Q 331 298 327 298.9 L 324.5 298.9" stroke="#ff2020" stroke-width="0.54" fill="none"/>
<path d="M 308.6 70.4 L 308.6 64.9 Q 304.6 63.4 303.6 60.4 Q 303.6 56.4 307.6 56.4 L 312.7 56.4 Q 318.2 56.7 318.2 62.4 L 318.2 70.4 Q 318.2 71.4 316.7 71.4 L 310.1 71.4 Q 308.6 71.4 308.6 70.4" stroke="#2020ff" stroke-width="0.54" fill="none"/>
<path d="M 307.8 56.7 Q 305.2 58.9 305 62.4" stroke="#2020ff" stroke-width="0.48" fill="none"/>
<line x1="308.9" y1="62.2" x2="308.6" y2="65.2" stroke="#2020ff" stroke-width="0.48"/>
<line x1="310" y1="71.4" x2="310" y2="105.9" stroke="#2020ff" stroke-width="0.48"/>
<line x1="317.1" y1="71.4" x2="317.1" y2="105.9" stroke="#2020ff" stroke-width="0.48"/>
<rect x="309.5" y="105.9" width="8" height="12.8" stroke="#2020ff" stroke-width="0.54" fill="none"/>
<line x1="309.5" y1="107.1" x2="317.5" y2="107.1" stroke="#2020ff" stroke-width="0.34"/>
<circle cx="316.3" cy="114" r="4.8" stroke="#2020ff" stroke-width="1.56" fill="#fff"/>
<path d="M 312.3 110.4 Q 307.8 114 312.3 117.6" stroke="#2020ff" stroke-width="0.54" fill="none"/>
<path d="M 313.1 110.1 Q 309.3 114 313.1 117.9" stroke="#2020ff" stroke-width="0.41" fill="none"/>
<circle cx="316.3" cy="114" r="3.2" stroke="#2020ff" stroke-width="0.34" fill="none"/>
<line x1="314.7" y1="112.4" x2="318.1" y2="115.8" stroke="#2020ff" stroke-width="0.34"/>
<line x1="310" y1="118.7" x2="310" y2="204.3" stroke="#2020ff" stroke-width="0.48"/>
<line x1="317.2" y1="118.7" x2="317.2" y2="204.3" stroke="#2020ff" stroke-width="0.48"/>
<rect x="308.6" y="204.3" width="10.3" height="12.8" stroke="#2020ff" stroke-width="0.54" fill="none"/>
<line x1="308.6" y1="205.5" x2="318.9" y2="205.5" stroke="#2020ff" stroke-width="0.34"/>
<line x1="310" y1="217.1" x2="310" y2="238.6" stroke="#2020ff" stroke-width="0.48"/>
<line x1="317.2" y1="217.1" x2="317.2" y2="238.6" stroke="#2020ff" stroke-width="0.48"/>
<path d="M 309.6 238.6 L 317.9 238.6 Q 319.7 242.45 317.9 246.3 L 309.6 246.3 Q 307.8 242.45 309.6 238.6 Z" stroke="#2020ff" stroke-width="0.54" fill="none"/>
<line x1="308.8" y1="241.17" x2="318.7" y2="241.17" stroke="#2020ff" stroke-width="0.41"/>
<line x1="308.8" y1="243.73" x2="318.7" y2="243.73" stroke="#2020ff" stroke-width="0.41"/>
<rect x="309.3" y="248" width="9" height="13.7" stroke="#2020ff" stroke-width="0.48" fill="none"/>
<path d="M 309.3 251 L 318.3 251 M 309.3 258.5 L 318.3 258.5 M 311 253 Q 313.5 255 311 257 M 316.5 253 Q 314 255 316.5 257" stroke="#2020ff" stroke-width="0.34" fill="none"/>
<circle cx="316" cy="256" r="1.1" stroke="#2020ff" stroke-width="0" fill="#2020ff"/>
<path d="M 309.6 263.4 L 317.9 263.4 Q 319.7 267.7 317.9 272 L 309.6 272 Q 307.8 267.7 309.6 263.4 Z" stroke="#2020ff" stroke-width="0.54" fill="none"/>
<line x1="308.8" y1="266.27" x2="318.7" y2="266.27" stroke="#2020ff" stroke-width="0.41"/>
<line x1="308.8" y1="269.13" x2="318.7" y2="269.13" stroke="#2020ff" stroke-width="0.41"/>
<line x1="308.6" y1="264.6" x2="318.9" y2="264.6" stroke="#2020ff" stroke-width="0.75"/>
<path d="M 308.9 272 L 308.9 278 Q 309.5 283.5 313.1 285" stroke="#2020ff" stroke-width="0.54" fill="none"/>
<line x1="317.4" y1="272" x2="317.4" y2="280.5" stroke="#2020ff" stroke-width="0.54"/>
<rect x="296.8" y="168.6" width="18.5" height="4.3" stroke="none" stroke-width="0" fill="#fff"/>
<line x1="296.6" y1="168.6" x2="316" y2="168.6" stroke="#ff2020" stroke-width="0.48"/>
<line x1="296.6" y1="172.9" x2="316" y2="172.9" stroke="#ff2020" stroke-width="0.48"/>
<path d="M 314 168.6 L 317 168.6 Q 321.4 168.6 321.4 173 L 321.4 175.4 L 315.8 175.4 L 315.8 172.9" stroke="#ff2020" stroke-width="0.54" fill="none"/>
<path d="M 313.1 294 L 313.1 284 Q 313.1 280.5 318 280.5 Q 324.5 280.5 324.5 286 L 324.5 294 Z" stroke="#2020ff" stroke-width="0.54" fill="none"/>
<line x1="316" y1="294" x2="316" y2="308.8" stroke="#2020ff" stroke-width="0.48"/>
<line x1="323.7" y1="294" x2="323.7" y2="308.8" stroke="#2020ff" stroke-width="0.48"/>
<ellipse cx="281.3" cy="316.5" rx="1.6" ry="4.3" stroke="#2020ff" stroke-width="0.54" fill="none"/>
<line x1="281.3" y1="312.2" x2="304" y2="312.2" stroke="#2020ff" stroke-width="0.48"/>
<line x1="281.3" y1="320.8" x2="304" y2="320.8" stroke="#2020ff" stroke-width="0.48"/>
<rect x="304" y="309.5" width="4.2" height="11.3" stroke="#2020ff" stroke-width="0.54" fill="none" rx="1.5"/>
<line x1="308.2" y1="310.2" x2="314.6" y2="310.2" stroke="#2020ff" stroke-width="0.48"/>
<line x1="308.2" y1="318" x2="314.6" y2="318" stroke="#2020ff" stroke-width="0.48"/>
<rect x="314.6" y="308.8" width="9.9" height="13.4" stroke="#2020ff" stroke-width="0.54" fill="none" rx="3"/>
<circle cx="312.6" cy="315.4" r="3.6" stroke="#2020ff" stroke-width="0.48" fill="none"/>
<line x1="324.5" y1="310.2" x2="328" y2="310.2" stroke="#2020ff" stroke-width="0.48"/>
<line x1="324.5" y1="318" x2="328" y2="318" stroke="#2020ff" stroke-width="0.48"/>
<path d="M 328 310.2 Q 330.5 310.2 330.5 314.1 Q 330.5 318 328 318" stroke="#2020ff" stroke-width="0.54" fill="none"/>
<path d="M 313.1 294 L 313.1 284 Q 313.1 280.5 318 280.5 Q 324.5 280.5 324.5 286 L 324.5 294 Z" stroke="#2020ff" stroke-width="0.54" fill="#fff"/>
<rect x="316" y="294" width="7.7" height="14.8" stroke="none" stroke-width="0" fill="#fff"/>
<line x1="316" y1="294" x2="316" y2="308.8" stroke="#2020ff" stroke-width="0.48"/>
<line x1="323.7" y1="294" x2="323.7" y2="308.8" stroke="#2020ff" stroke-width="0.48"/>
<line x1="324" y1="70.4" x2="337.8" y2="70.4" stroke="#505050" stroke-width="0.6"/>
<line x1="324" y1="70.4" x2="318" y2="63" stroke="#505050" stroke-width="0.55"/>
<text x="330.4" y="70.6" font-size="6.6" fill="#1a1a1a" stroke="#1a1a1a" stroke-width="0.18" textLength="5.4" lengthAdjust="spacingAndGlyphs">89</text>
<line x1="269.5" y1="111.9" x2="282.9" y2="111.9" stroke="#505050" stroke-width="0.6"/>
<line x1="282.9" y1="111.9" x2="287.7" y2="108.5" stroke="#505050" stroke-width="0.55"/>
<text x="271.8" y="112.1" font-size="6.6" fill="#1a1a1a" stroke="#1a1a1a" stroke-width="0.18" textLength="5.4" lengthAdjust="spacingAndGlyphs">67</text>
<line x1="270.5" y1="124.2" x2="282" y2="124.2" stroke="#505050" stroke-width="0.6"/>
<line x1="282" y1="124.2" x2="289.7" y2="117" stroke="#505050" stroke-width="0.55"/>
<text x="272.8" y="124.4" font-size="6.6" fill="#1a1a1a" stroke="#1a1a1a" stroke-width="0.18" textLength="5.4" lengthAdjust="spacingAndGlyphs">31</text>
<line x1="323.2" y1="98.2" x2="335.2" y2="98.2" stroke="#505050" stroke-width="0.6"/>
<line x1="323.2" y1="98.2" x2="317.5" y2="105.9" stroke="#505050" stroke-width="0.55"/>
<text x="327.8" y="98.4" font-size="6.6" fill="#1a1a1a" stroke="#1a1a1a" stroke-width="0.18" textLength="5.4" lengthAdjust="spacingAndGlyphs">67</text>
<line x1="326.6" y1="105.4" x2="334" y2="105.4" stroke="#505050" stroke-width="0.6"/>
<line x1="326.6" y1="105.4" x2="320.6" y2="112.8" stroke="#505050" stroke-width="0.55"/>
<text x="326.6" y="105.6" font-size="6.6" fill="#1a1a1a" stroke="#1a1a1a" stroke-width="0.18" textLength="5.4" lengthAdjust="spacingAndGlyphs">31</text>
<line x1="269.2" y1="168.6" x2="281.2" y2="168.6" stroke="#505050" stroke-width="0.6"/>
<line x1="281.2" y1="168.6" x2="288" y2="164.3" stroke="#505050" stroke-width="0.55"/>
<text x="271.5" y="168.8" font-size="6.6" fill="#1a1a1a" stroke="#1a1a1a" stroke-width="0.18" textLength="5.4" lengthAdjust="spacingAndGlyphs">74</text>
<line x1="269.2" y1="204" x2="281.2" y2="204" stroke="#505050" stroke-width="0.6"/>
<line x1="281.2" y1="204" x2="288.4" y2="197.7" stroke="#505050" stroke-width="0.55"/>
<text x="271.5" y="204.2" font-size="6.6" fill="#1a1a1a" stroke="#1a1a1a" stroke-width="0.18" textLength="5.4" lengthAdjust="spacingAndGlyphs">53</text>
<line x1="329.2" y1="204" x2="341.2" y2="204" stroke="#505050" stroke-width="0.6"/>
<line x1="329.2" y1="204" x2="320.2" y2="193.1" stroke="#505050" stroke-width="0.55"/>
<text x="336.5" y="204.2" font-size="6.6" fill="#1a1a1a" stroke="#1a1a1a" stroke-width="0.18" textLength="2.7" lengthAdjust="spacingAndGlyphs">9</text>
<line x1="270.9" y1="227.4" x2="282" y2="227.4" stroke="#505050" stroke-width="0.6"/>
<line x1="282" y1="227.4" x2="291.4" y2="216.3" stroke="#505050" stroke-width="0.55"/>
<text x="273.2" y="227.6" font-size="6.6" fill="#1a1a1a" stroke="#1a1a1a" stroke-width="0.18" textLength="5.4" lengthAdjust="spacingAndGlyphs">23</text>
<line x1="270.9" y1="241.2" x2="282" y2="241.2" stroke="#505050" stroke-width="0.6"/>
<line x1="282" y1="241.2" x2="295.7" y2="231.7" stroke="#505050" stroke-width="0.55"/>
<text x="273.2" y="241.4" font-size="6.6" fill="#1a1a1a" stroke="#1a1a1a" stroke-width="0.18" textLength="5.4" lengthAdjust="spacingAndGlyphs">44</text>
<line x1="271.7" y1="262.6" x2="282" y2="262.6" stroke="#505050" stroke-width="0.6"/>
<line x1="282" y1="262.6" x2="288.4" y2="254" stroke="#505050" stroke-width="0.55"/>
<text x="274" y="262.8" font-size="6.6" fill="#1a1a1a" stroke="#1a1a1a" stroke-width="0.18" textLength="5.4" lengthAdjust="spacingAndGlyphs">13</text>
<line x1="271.7" y1="272" x2="282" y2="272" stroke="#505050" stroke-width="0.6"/>
<line x1="282" y1="272" x2="288.4" y2="265.2" stroke="#505050" stroke-width="0.55"/>
<text x="274" y="272.2" font-size="6.6" fill="#1a1a1a" stroke="#1a1a1a" stroke-width="0.18" textLength="5.4" lengthAdjust="spacingAndGlyphs">53</text>
<line x1="329.2" y1="228" x2="342.6" y2="228" stroke="#505050" stroke-width="0.6"/>
<line x1="329.2" y1="228" x2="311.2" y2="214.6" stroke="#505050" stroke-width="0.55"/>
<text x="335.2" y="228.2" font-size="6.6" fill="#1a1a1a" stroke="#1a1a1a" stroke-width="0.18" textLength="5.4" lengthAdjust="spacingAndGlyphs">74</text>
<line x1="327.5" y1="241.2" x2="342.6" y2="241.2" stroke="#505050" stroke-width="0.6"/>
<line x1="327.5" y1="241.2" x2="318" y2="247.2" stroke="#505050" stroke-width="0.55"/>
<text x="335.2" y="241.4" font-size="6.6" fill="#1a1a1a" stroke="#1a1a1a" stroke-width="0.18" textLength="5.4" lengthAdjust="spacingAndGlyphs">51</text>
<line x1="327.5" y1="252.3" x2="342.6" y2="252.3" stroke="#505050" stroke-width="0.6"/>
<line x1="327.5" y1="252.3" x2="317.2" y2="260" stroke="#505050" stroke-width="0.55"/>
<text x="335.2" y="252.5" font-size="6.6" fill="#1a1a1a" stroke="#1a1a1a" stroke-width="0.18" textLength="5.4" lengthAdjust="spacingAndGlyphs">13</text>
<line x1="327.5" y1="261.7" x2="342.6" y2="261.7" stroke="#505050" stroke-width="0.6"/>
<line x1="327.5" y1="261.7" x2="318.9" y2="268.6" stroke="#505050" stroke-width="0.55"/>
<text x="335.2" y="261.9" font-size="6.6" fill="#1a1a1a" stroke="#1a1a1a" stroke-width="0.18" textLength="5.4" lengthAdjust="spacingAndGlyphs">53</text>
<line x1="246" y1="312" x2="269" y2="312" stroke="#505050" stroke-width="0.6"/>
<line x1="269" y1="312" x2="279" y2="297" stroke="#505050" stroke-width="0.55"/>
<text x="248.3" y="312.2" font-size="6.6" fill="#1a1a1a" stroke="#1a1a1a" stroke-width="0.18" textLength="18" lengthAdjust="spacingAndGlyphs">Ø50x8.4</text>
<line x1="234" y1="340.6" x2="258" y2="340.6" stroke="#505050" stroke-width="0.6"/>
<line x1="258" y1="340.6" x2="275" y2="317" stroke="#505050" stroke-width="0.55"/>
<text x="236.3" y="340.8" font-size="6.6" fill="#1a1a1a" stroke="#1a1a1a" stroke-width="0.18" textLength="18" lengthAdjust="spacingAndGlyphs">Ø50x8.4</text>
<line x1="329" y1="331" x2="342" y2="331" stroke="#505050" stroke-width="0.6"/>
<line x1="329" y1="331" x2="319" y2="316" stroke="#505050" stroke-width="0.55"/>
<text x="334.6" y="331.2" font-size="6.6" fill="#1a1a1a" stroke="#1a1a1a" stroke-width="0.18" textLength="5.4" lengthAdjust="spacingAndGlyphs">89</text>
<line x1="329" y1="352" x2="342" y2="352" stroke="#505050" stroke-width="0.6"/>
<line x1="329" y1="352" x2="307" y2="317" stroke="#505050" stroke-width="0.55"/>
<text x="334.6" y="352.2" font-size="6.6" fill="#1a1a1a" stroke="#1a1a1a" stroke-width="0.18" textLength="5.4" lengthAdjust="spacingAndGlyphs">78</text>
<path d="M 429.1 68.4 L 429.1 63.6 Q 425.1 62.1 424.1 59.1 Q 424.1 55.1 428.1 55.1 L 433.2 55.1 Q 438.7 55.4 438.7 61.1 L 438.7 68.4 Q 438.7 69.4 437.2 69.4 L 430.6 69.4 Q 429.1 69.4 429.1 68.4" stroke="#ff2020" stroke-width="0.54" fill="none"/>
<path d="M 428.3 55.4 Q 425.7 57.6 425.5 61.1" stroke="#ff2020" stroke-width="0.48" fill="none"/>
<line x1="429.4" y1="60.9" x2="429.1" y2="63.9" stroke="#ff2020" stroke-width="0.48"/>
<line x1="430.1" y1="69.4" x2="430.1" y2="105" stroke="#ff2020" stroke-width="0.48"/>
<line x1="437.3" y1="69.4" x2="437.3" y2="105" stroke="#ff2020" stroke-width="0.48"/>
<rect x="429.4" y="105" width="8.3" height="13.8" stroke="#ff2020" stroke-width="0.54" fill="none"/>
<line x1="429.4" y1="106.2" x2="437.7" y2="106.2" stroke="#ff2020" stroke-width="0.34"/>
<circle cx="436.3" cy="112.8" r="4.8" stroke="#ff2020" stroke-width="1.56" fill="#fff"/>
<path d="M 432.3 109.2 Q 427.8 112.8 432.3 116.4" stroke="#ff2020" stroke-width="0.54" fill="none"/>
<path d="M 433.1 108.9 Q 429.3 112.8 433.1 116.7" stroke="#ff2020" stroke-width="0.41" fill="none"/>
<circle cx="436.3" cy="112.8" r="3.2" stroke="#ff2020" stroke-width="0.34" fill="none"/>
<line x1="434.7" y1="111.2" x2="438.1" y2="114.6" stroke="#ff2020" stroke-width="0.34"/>
<line x1="429.8" y1="118.8" x2="429.8" y2="160" stroke="#ff2020" stroke-width="0.48"/>
<line x1="437.2" y1="118.8" x2="437.2" y2="160" stroke="#ff2020" stroke-width="0.48"/>
<rect x="428.6" y="160" width="9.8" height="14.6" stroke="#ff2020" stroke-width="0.54" fill="none"/>
<line x1="428.6" y1="161.2" x2="438.4" y2="161.2" stroke="#ff2020" stroke-width="0.34"/>
<line x1="434" y1="165.2" x2="459.5" y2="165.2" stroke="#ff2020" stroke-width="0.48"/>
<line x1="434" y1="169.8" x2="459.5" y2="169.8" stroke="#ff2020" stroke-width="0.48"/>
<path d="M 434 165.2 Q 431.8 165.2 431.8 167.5 Q 431.8 169.8 434 169.8" stroke="#ff2020" stroke-width="0.54" fill="none"/>
<circle cx="434.9" cy="167.6" r="2" stroke="#ff2020" stroke-width="0.41" fill="none"/>
<path d="M 458 165.2 L 459.5 165.2 Q 463.7 165.2 463.7 169.5 L 463.7 172.9 L 457.7 172.9 L 457.7 169.8" stroke="#ff2020" stroke-width="0.54" fill="none"/>
<line x1="458.6" y1="172.9" x2="458.6" y2="177.2" stroke="#ff2020" stroke-width="0.48"/>
<line x1="462.9" y1="172.9" x2="462.9" y2="177.2" stroke="#ff2020" stroke-width="0.48"/>
<path d="M 458.7 177.2 L 463 177.2 Q 464.8 180.2 463 183.2 L 458.7 183.2 Q 456.9 180.2 458.7 177.2 Z" stroke="#ff2020" stroke-width="0.54" fill="none"/>
<line x1="457.9" y1="180.2" x2="463.8" y2="180.2" stroke="#ff2020" stroke-width="0.41"/>
<line x1="457.7" y1="184.8" x2="464" y2="184.8" stroke="#ff2020" stroke-width="1.02"/>
<circle cx="461.7" cy="189.1" r="2.7" stroke="#ff2020" stroke-width="1.09" fill="none"/>
<path d="M 457.7 184.8 L 458.7 192.7 M 464 184.8 L 463 192.7" stroke="#ff2020" stroke-width="0.41" fill="none"/>
<line x1="457.7" y1="192.7" x2="464" y2="192.7" stroke="#ff2020" stroke-width="1.02"/>
<rect x="457.7" y="193.9" width="6.3" height="3.1" stroke="#2020ff" stroke-width="0.54" fill="none"/>
<line x1="457.7" y1="195.5" x2="464" y2="195.5" stroke="#2020ff" stroke-width="0.68"/>
<line x1="458.6" y1="197" x2="458.6" y2="209" stroke="#2020ff" stroke-width="0.48"/>
<line x1="463.5" y1="197" x2="463.5" y2="209" stroke="#2020ff" stroke-width="0.48"/>
<path d="M 463.5 209 Q 463.5 213 458 213 M 458.6 209 Q 457 207.5 455.6 208" stroke="#2020ff" stroke-width="0.54" fill="none"/>
<circle cx="458.3" cy="210" r="2.4" stroke="#2020ff" stroke-width="0.48" fill="none"/>
<line x1="429.8" y1="174.6" x2="429.8" y2="176.3" stroke="#ff2020" stroke-width="0.48"/>
<line x1="437.2" y1="174.6" x2="437.2" y2="176.3" stroke="#ff2020" stroke-width="0.48"/>
<path d="M 429.6 176.3 L 437.4 176.3 Q 439.2 180.6 437.4 184.9 L 429.6 184.9 Q 427.8 180.6 429.6 176.3 Z" stroke="#ff2020" stroke-width="0.54" fill="none"/>
<line x1="428.8" y1="179.17" x2="438.2" y2="179.17" stroke="#ff2020" stroke-width="0.41"/>
<line x1="428.8" y1="182.03" x2="438.2" y2="182.03" stroke="#ff2020" stroke-width="0.41"/>
<rect x="429.5" y="187.4" width="8.5" height="9.6" stroke="#ff2020" stroke-width="0.54" fill="none"/>
<path d="M 429.5 190.5 L 438 190.5 M 429.5 194 L 438 194" stroke="#ff2020" stroke-width="0.34" fill="none"/>
<line x1="429.5" y1="197.2" x2="438" y2="197.2" stroke="#ff2020" stroke-width="0.75"/>
<line x1="425.3" y1="186" x2="425.3" y2="198.2" stroke="#ff2020" stroke-width="0.48"/>
<line x1="430" y1="197.7" x2="430" y2="207.3" stroke="#ff2020" stroke-width="0.48"/>
<line x1="437.6" y1="197.7" x2="437.6" y2="207.3" stroke="#ff2020" stroke-width="0.48"/>
<path d="M 441 207.1 L 432.5 207.1 Q 426.5 207.1 426.5 215.4 Q 426.5 223.6 431.5 223.6" stroke="#ff2020" stroke-width="0.48" fill="none"/>
<path d="M 428.5 209.4 Q 427.5 216.4 429 222.4" stroke="#ff2020" stroke-width="0.34" fill="none"/>
<path d="M 430 210.4 L 436.5 209.4 L 437 221.2 L 430 221.2 Z" stroke="#ff2020" stroke-width="0.48" fill="none"/>
<rect x="431" y="211.9" width="4.5" height="7.5" stroke="#ff2020" stroke-width="0.27" fill="none"/>
<rect x="430.2" y="215" width="2.4" height="2" stroke="#ff2020" stroke-width="0" fill="#ff2020"/>
<circle cx="440.5" cy="216.4" r="5.6" stroke="#ff2020" stroke-width="0.54" fill="none"/>
<line x1="437.3" y1="207.1" x2="443" y2="209.4" stroke="#ff2020" stroke-width="0.34"/>
<rect x="430" y="223.6" width="17.3" height="4.4" stroke="#ff2020" stroke-width="0.48" fill="none" rx="1.5"/>
<line x1="434.5" y1="223.6" x2="434.5" y2="228" stroke="#ff2020" stroke-width="0.34"/>
<line x1="437" y1="212.9" x2="444" y2="219.9" stroke="#505050" stroke-width="0"/>
<rect x="430" y="229.7" width="6.8" height="6.6" stroke="#ff2020" stroke-width="0.48" fill="none"/>
<line x1="430" y1="233" x2="436.8" y2="233" stroke="#ff2020" stroke-width="0.34"/>
<rect x="430.6" y="236.6" width="9.6" height="9.6" stroke="#ff2020" stroke-width="0.54" fill="none"/>
<circle cx="437.2" cy="241.2" r="2.4" stroke="#ff2020" stroke-width="0.41" fill="none"/>
<line x1="430.6" y1="236.8" x2="433" y2="236.8" stroke="#ff2020" stroke-width="0.82"/>
<line x1="437.5" y1="236.8" x2="440.2" y2="236.8" stroke="#ff2020" stroke-width="0.82"/>
<line x1="430.6" y1="246" x2="433" y2="246" stroke="#ff2020" stroke-width="0.82"/>
<line x1="437.5" y1="246" x2="440.2" y2="246" stroke="#ff2020" stroke-width="0.82"/>
<ellipse cx="442" cy="241.2" rx="1.6" ry="3.6" stroke="#ff2020" stroke-width="0.48" fill="none"/>
<line x1="430" y1="248.7" x2="437" y2="248.7" stroke="#ff2020" stroke-width="1.02"/>
<rect x="430" y="251.3" width="7.2" height="10.1" stroke="#ff2020" stroke-width="0.48" fill="none"/>
<path d="M 430 254 L 437.2 254 M 430 259 L 437.2 259 M 431.5 255 Q 433.5 256.5 431.5 258 M 436 255 Q 434 256.5 436 258" stroke="#ff2020" stroke-width="0.34" fill="none"/>
<circle cx="435" cy="256.5" r="0.9" stroke="#ff2020" stroke-width="0" fill="#ff2020"/>
<path d="M 430.1 264.4 L 436.7 264.4 Q 438.5 268.95 436.7 273.5 L 430.1 273.5 Q 428.3 268.95 430.1 264.4 Z" stroke="#ff2020" stroke-width="0.54" fill="none"/>
<line x1="429.3" y1="267.43" x2="437.5" y2="267.43" stroke="#ff2020" stroke-width="0.41"/>
<line x1="429.3" y1="270.47" x2="437.5" y2="270.47" stroke="#ff2020" stroke-width="0.41"/>
<line x1="429.9" y1="273.5" x2="429.9" y2="284" stroke="#ff2020" stroke-width="0.48"/>
<line x1="437.6" y1="273.5" x2="437.6" y2="284" stroke="#ff2020" stroke-width="0.48"/>
<path d="M 429.9 284 L 429.9 287 Q 433.7 290 437.6 287 L 437.6 284" stroke="#ff2020" stroke-width="0.48" fill="none"/>
<ellipse cx="425.6" cy="293.5" rx="2.1" ry="5.3" stroke="#ff2020" stroke-width="0.54" fill="none"/>
<path d="M 425.6 288.2 L 427.7 287.2 L 444 287.2 L 444 299.1 L 427.7 299.1 L 425.6 298.8" stroke="#ff2020" stroke-width="0.54" fill="none"/>
<line x1="444" y1="288.2" x2="456" y2="288.2" stroke="#ff2020" stroke-width="0.48"/>
<line x1="444" y1="296.7" x2="456" y2="296.7" stroke="#ff2020" stroke-width="0.48"/>
<path d="M 466 286.8 L 470 286.8 Q 472.5 288 472.5 291 Q 472.5 294.5 470 295.3 L 466 295.3" stroke="#ff2020" stroke-width="0.54" fill="none"/>
<path d="M 450.9 67.7 L 450.9 62.6 Q 446.9 61.1 445.9 58.1 Q 445.9 54.1 449.9 54.1 L 455.4 54.1 Q 460.9 54.4 460.9 60.1 L 460.9 67.7 Q 460.9 68.7 459.4 68.7 L 452.4 68.7 Q 450.9 68.7 450.9 67.7" stroke="#2020ff" stroke-width="0.54" fill="none"/>
<path d="M 450.1 54.4 Q 447.5 56.6 447.3 60.1" stroke="#2020ff" stroke-width="0.48" fill="none"/>
<line x1="451.2" y1="59.9" x2="450.9" y2="62.9" stroke="#2020ff" stroke-width="0.48"/>
<line x1="451.9" y1="68.7" x2="451.9" y2="103.3" stroke="#2020ff" stroke-width="0.48"/>
<line x1="459.4" y1="68.7" x2="459.4" y2="103.3" stroke="#2020ff" stroke-width="0.48"/>
<rect x="451.4" y="103.3" width="8.1" height="13.7" stroke="#2020ff" stroke-width="0.54" fill="none"/>
<line x1="451.4" y1="104.5" x2="459.5" y2="104.5" stroke="#2020ff" stroke-width="0.34"/>
<circle cx="458.3" cy="111" r="4.8" stroke="#2020ff" stroke-width="1.56" fill="#fff"/>
<path d="M 454.3 107.4 Q 449.8 111 454.3 114.6" stroke="#2020ff" stroke-width="0.54" fill="none"/>
<path d="M 455.1 107.1 Q 451.3 111 455.1 114.9" stroke="#2020ff" stroke-width="0.41" fill="none"/>
<circle cx="458.3" cy="111" r="3.2" stroke="#2020ff" stroke-width="0.34" fill="none"/>
<line x1="456.7" y1="109.4" x2="460.1" y2="112.8" stroke="#2020ff" stroke-width="0.34"/>
<line x1="452" y1="117" x2="452" y2="202.4" stroke="#2020ff" stroke-width="0.48"/>
<line x1="459.2" y1="117" x2="459.2" y2="202.4" stroke="#2020ff" stroke-width="0.48"/>
<rect x="450.8" y="202.4" width="8.4" height="14.6" stroke="#2020ff" stroke-width="0.54" fill="none"/>
<line x1="450.8" y1="203.6" x2="459.2" y2="203.6" stroke="#2020ff" stroke-width="0.34"/>
<line x1="452" y1="217" x2="452" y2="223" stroke="#2020ff" stroke-width="0.48"/>
<line x1="459.2" y1="217" x2="459.2" y2="223" stroke="#2020ff" stroke-width="0.48"/>
<path d="M 452.4 223 L 458.8 223 Q 460.6 228.15 458.8 233.3 L 452.4 233.3 Q 450.6 228.15 452.4 223 Z" stroke="#2020ff" stroke-width="0.54" fill="none"/>
<line x1="451.6" y1="226.43" x2="459.6" y2="226.43" stroke="#2020ff" stroke-width="0.41"/>
<line x1="451.6" y1="229.87" x2="459.6" y2="229.87" stroke="#2020ff" stroke-width="0.41"/>
<line x1="451.4" y1="234.2" x2="459.8" y2="234.2" stroke="#2020ff" stroke-width="0.82"/>
<ellipse cx="444.6" cy="240.2" rx="1.2" ry="4.6" stroke="#2020ff" stroke-width="0.54" fill="none"/>
<ellipse cx="447" cy="240.2" rx="1.2" ry="4.6" stroke="#2020ff" stroke-width="0.54" fill="none"/>
<ellipse cx="449.4" cy="240.2" rx="1.2" ry="4.6" stroke="#2020ff" stroke-width="0.54" fill="none"/>
<line x1="444.6" y1="235.6" x2="449.4" y2="235.6" stroke="#2020ff" stroke-width="0.41"/>
<line x1="444.6" y1="244.8" x2="449.4" y2="244.8" stroke="#2020ff" stroke-width="0.41"/>
<rect x="450.3" y="234.1" width="8.6" height="11.6" stroke="#2020ff" stroke-width="0.48" fill="none"/>
<line x1="450.3" y1="234.3" x2="458.9" y2="234.3" stroke="#2020ff" stroke-width="0.82"/>
<line x1="450.3" y1="245.5" x2="458.9" y2="245.5" stroke="#2020ff" stroke-width="0.82"/>
<path d="M 453 236.5 L 457 240 L 453 243.5" stroke="#2020ff" stroke-width="0.41" fill="none"/>
<rect x="450.8" y="247.7" width="8.4" height="10.6" stroke="#2020ff" stroke-width="0.48" fill="none"/>
<path d="M 450.8 250.5 L 459.2 250.5 M 450.8 255.5 L 459.2 255.5 M 452.5 251.5 Q 454.5 253 452.5 254.5 M 457.5 251.5 Q 455.5 253 457.5 254.5" stroke="#2020ff" stroke-width="0.34" fill="none"/>
<circle cx="456.9" cy="254.3" r="1.1" stroke="#2020ff" stroke-width="0" fill="#2020ff"/>
<path d="M 451.8 262.9 L 458.8 262.9 Q 460.6 267.75 458.8 272.6 L 451.8 272.6 Q 450 267.75 451.8 262.9 Z" stroke="#2020ff" stroke-width="0.54" fill="none"/>
<line x1="451" y1="266.13" x2="459.6" y2="266.13" stroke="#2020ff" stroke-width="0.41"/>
<line x1="451" y1="269.37" x2="459.6" y2="269.37" stroke="#2020ff" stroke-width="0.41"/>
<line x1="450.8" y1="264" x2="459.8" y2="264" stroke="#2020ff" stroke-width="0.68"/>
<path d="M 450.4 272.6 L 450.4 276 Q 451 282.5 455.3 284" stroke="#2020ff" stroke-width="0.54" fill="none"/>
<line x1="460.3" y1="272.6" x2="460.3" y2="278.3" stroke="#2020ff" stroke-width="0.54"/>
<rect x="438.6" y="165.2" width="20" height="4.6" stroke="none" stroke-width="0" fill="#fff"/>
<path d="M 457.7 169.8 L 457.7 172.9 L 463.7 172.9 L 463.7 169.5 Q 463.7 165.2 459.5 165.2 Z" stroke="none" stroke-width="0" fill="#fff"/>
<line x1="438.4" y1="165.2" x2="459.5" y2="165.2" stroke="#ff2020" stroke-width="0.48"/>
<line x1="438.4" y1="169.8" x2="459.5" y2="169.8" stroke="#ff2020" stroke-width="0.48"/>
<path d="M 458 165.2 L 459.5 165.2 Q 463.7 165.2 463.7 169.5 L 463.7 172.9 L 457.7 172.9 L 457.7 169.8" stroke="#ff2020" stroke-width="0.54" fill="none"/>
<rect x="457.9" y="173" width="5.9" height="36" stroke="none" stroke-width="0" fill="#fff"/>
<line x1="458.6" y1="172.9" x2="458.6" y2="177.2" stroke="#ff2020" stroke-width="0.48"/>
<line x1="462.9" y1="172.9" x2="462.9" y2="177.2" stroke="#ff2020" stroke-width="0.48"/>
<path d="M 458.7 177.2 L 463 177.2 Q 464.8 180.2 463 183.2 L 458.7 183.2 Q 456.9 180.2 458.7 177.2 Z" stroke="#ff2020" stroke-width="0.54" fill="none"/>
<line x1="457.9" y1="180.2" x2="463.8" y2="180.2" stroke="#ff2020" stroke-width="0.41"/>
<line x1="457.7" y1="184.8" x2="464" y2="184.8" stroke="#ff2020" stroke-width="1.02"/>
<circle cx="461.7" cy="189.1" r="2.7" stroke="#ff2020" stroke-width="1.09" fill="none"/>
<path d="M 457.7 184.8 L 458.7 192.7 M 464 184.8 L 463 192.7" stroke="#ff2020" stroke-width="0.41" fill="none"/>
<line x1="457.7" y1="192.7" x2="464" y2="192.7" stroke="#ff2020" stroke-width="1.02"/>
<rect x="457.7" y="193.9" width="6.3" height="3.1" stroke="#2020ff" stroke-width="0.54" fill="none"/>
<line x1="457.7" y1="195.5" x2="464" y2="195.5" stroke="#2020ff" stroke-width="0.68"/>
<line x1="458.6" y1="197" x2="458.6" y2="209" stroke="#2020ff" stroke-width="0.48"/>
<line x1="463.5" y1="197" x2="463.5" y2="209" stroke="#2020ff" stroke-width="0.48"/>
<path d="M 463.5 209 Q 463.5 213 458 213 M 458.6 209 Q 457 207.5 455.6 208" stroke="#2020ff" stroke-width="0.54" fill="none"/>
<circle cx="458.3" cy="210" r="2.4" stroke="#2020ff" stroke-width="0.48" fill="none"/>
<path d="M 456 291.8 L 456 282 Q 456 278.3 461 278.3 Q 466.6 278.3 466.6 284 L 466.6 291.8 Z" stroke="#2020ff" stroke-width="0.54" fill="none"/>
<line x1="457.4" y1="291.8" x2="457.4" y2="307.3" stroke="#2020ff" stroke-width="0.48"/>
<line x1="465.9" y1="291.8" x2="465.9" y2="307.3" stroke="#2020ff" stroke-width="0.48"/>
<ellipse cx="424.9" cy="314.1" rx="1.4" ry="3.9" stroke="#2020ff" stroke-width="0.54" fill="none"/>
<line x1="424.9" y1="309.5" x2="446.1" y2="309.5" stroke="#2020ff" stroke-width="0.48"/>
<line x1="424.9" y1="318" x2="446.1" y2="318" stroke="#2020ff" stroke-width="0.48"/>
<rect x="446.1" y="307.3" width="3.6" height="9.9" stroke="#2020ff" stroke-width="0.54" fill="none" rx="1.2"/>
<line x1="449.7" y1="308.5" x2="456" y2="308.5" stroke="#2020ff" stroke-width="0.48"/>
<line x1="449.7" y1="316" x2="456" y2="316" stroke="#2020ff" stroke-width="0.48"/>
<rect x="456" y="307.3" width="10.6" height="12.8" stroke="#2020ff" stroke-width="0.54" fill="none" rx="3"/>
<circle cx="456.7" cy="313" r="3.8" stroke="#2020ff" stroke-width="0.48" fill="none"/>
<line x1="466.6" y1="307.3" x2="470" y2="307.3" stroke="#2020ff" stroke-width="0.48"/>
<line x1="466.6" y1="315.8" x2="470" y2="315.8" stroke="#2020ff" stroke-width="0.48"/>
<ellipse cx="470.5" cy="311.5" rx="2.2" ry="4.8" stroke="#2020ff" stroke-width="0.54" fill="none"/>
<path d="M 456 291.8 L 456 282 Q 456 278.3 461 278.3 Q 466.6 278.3 466.6 284 L 466.6 291.8 Z" stroke="#2020ff" stroke-width="0.54" fill="#fff"/>
<rect x="457.4" y="291.8" width="8.5" height="15.5" stroke="none" stroke-width="0" fill="#fff"/>
<line x1="457.4" y1="291.8" x2="457.4" y2="307.3" stroke="#2020ff" stroke-width="0.48"/>
<line x1="465.9" y1="291.8" x2="465.9" y2="307.3" stroke="#2020ff" stroke-width="0.48"/>
<line x1="404.6" y1="97.8" x2="420.9" y2="97.8" stroke="#505050" stroke-width="0.6"/>
<line x1="420.9" y1="97.8" x2="429.8" y2="105" stroke="#505050" stroke-width="0.55"/>
<text x="406.9" y="98" font-size="6.6" fill="#1a1a1a" stroke="#1a1a1a" stroke-width="0.18" textLength="5.4" lengthAdjust="spacingAndGlyphs">67</text>
<line x1="404.6" y1="123.6" x2="420" y2="123.6" stroke="#505050" stroke-width="0.6"/>
<line x1="420" y1="123.6" x2="436.3" y2="114.5" stroke="#505050" stroke-width="0.55"/>
<text x="406.9" y="123.8" font-size="6.6" fill="#1a1a1a" stroke="#1a1a1a" stroke-width="0.18" textLength="5.4" lengthAdjust="spacingAndGlyphs">31</text>
<line x1="470.6" y1="96.1" x2="484" y2="96.1" stroke="#505050" stroke-width="0.6"/>
<line x1="470.6" y1="96.1" x2="461.2" y2="109.8" stroke="#505050" stroke-width="0.55"/>
<text x="476.6" y="96.3" font-size="6.6" fill="#1a1a1a" stroke="#1a1a1a" stroke-width="0.18" textLength="5.4" lengthAdjust="spacingAndGlyphs">31</text>
<line x1="470.3" y1="128.2" x2="480" y2="128.2" stroke="#505050" stroke-width="0.6"/>
<line x1="470.3" y1="128.2" x2="452.6" y2="116.7" stroke="#505050" stroke-width="0.55"/>
<text x="472.6" y="128.4" font-size="6.6" fill="#1a1a1a" stroke="#1a1a1a" stroke-width="0.18" textLength="5.4" lengthAdjust="spacingAndGlyphs">67</text>
<line x1="408" y1="175" x2="425.2" y2="175" stroke="#505050" stroke-width="0.6"/>
<line x1="425.2" y1="175" x2="429.8" y2="161.7" stroke="#505050" stroke-width="0.55"/>
<text x="410.3" y="175.2" font-size="6.6" fill="#1a1a1a" stroke="#1a1a1a" stroke-width="0.18" textLength="5.4" lengthAdjust="spacingAndGlyphs">74</text>
<line x1="408" y1="190.9" x2="425.2" y2="190.9" stroke="#505050" stroke-width="0.6"/>
<line x1="425.2" y1="190.9" x2="431.2" y2="181.5" stroke="#505050" stroke-width="0.55"/>
<text x="410.3" y="191.1" font-size="6.6" fill="#1a1a1a" stroke="#1a1a1a" stroke-width="0.18" textLength="5.4" lengthAdjust="spacingAndGlyphs">53</text>
<line x1="409.7" y1="208.2" x2="425.2" y2="208.2" stroke="#505050" stroke-width="0.6"/>
<line x1="425.2" y1="208.2" x2="432" y2="192.6" stroke="#505050" stroke-width="0.55"/>
<text x="412" y="208.4" font-size="6.6" fill="#1a1a1a" stroke="#1a1a1a" stroke-width="0.18" textLength="2.7" lengthAdjust="spacingAndGlyphs">7</text>
<line x1="470.6" y1="175" x2="484" y2="175" stroke="#505050" stroke-width="0.6"/>
<line x1="470.6" y1="175" x2="463.7" y2="189.2" stroke="#505050" stroke-width="0.55"/>
<text x="479.3" y="175.2" font-size="6.6" fill="#1a1a1a" stroke="#1a1a1a" stroke-width="0.18" textLength="2.7" lengthAdjust="spacingAndGlyphs">9</text>
<line x1="410.6" y1="220.2" x2="424.3" y2="220.2" stroke="#505050" stroke-width="0.6"/>
<line x1="424.3" y1="220.2" x2="435.4" y2="199" stroke="#505050" stroke-width="0.55"/>
<text x="412.9" y="220.4" font-size="6.6" fill="#1a1a1a" stroke="#1a1a1a" stroke-width="0.18" textLength="5.4" lengthAdjust="spacingAndGlyphs">23</text>
<line x1="410.6" y1="227.4" x2="424.3" y2="227.4" stroke="#505050" stroke-width="0.6"/>
<line x1="424.3" y1="227.4" x2="435.4" y2="218" stroke="#505050" stroke-width="0.55"/>
<text x="412.9" y="227.6" font-size="6.6" fill="#1a1a1a" stroke="#1a1a1a" stroke-width="0.18" textLength="5.4" lengthAdjust="spacingAndGlyphs">46</text>
<line x1="410.6" y1="236.9" x2="426" y2="236.9" stroke="#505050" stroke-width="0.6"/>
<line x1="426" y1="236.9" x2="435.4" y2="230" stroke="#505050" stroke-width="0.55"/>
<text x="412.9" y="237.1" font-size="6.6" fill="#1a1a1a" stroke="#1a1a1a" stroke-width="0.18" textLength="5.4" lengthAdjust="spacingAndGlyphs">23</text>
<line x1="411.4" y1="250" x2="424.3" y2="250" stroke="#505050" stroke-width="0.6"/>
<line x1="424.3" y1="250" x2="437.2" y2="239.4" stroke="#505050" stroke-width="0.55"/>
<text x="413.7" y="250.2" font-size="6.6" fill="#1a1a1a" stroke="#1a1a1a" stroke-width="0.18" textLength="5.4" lengthAdjust="spacingAndGlyphs">10</text>
<line x1="411.4" y1="262.6" x2="424.3" y2="262.6" stroke="#505050" stroke-width="0.6"/>
<line x1="424.3" y1="262.6" x2="431.2" y2="254" stroke="#505050" stroke-width="0.55"/>
<text x="413.7" y="262.8" font-size="6.6" fill="#1a1a1a" stroke="#1a1a1a" stroke-width="0.18" textLength="5.4" lengthAdjust="spacingAndGlyphs">13</text>
<line x1="410" y1="277.4" x2="424.3" y2="277.4" stroke="#505050" stroke-width="0.6"/>
<line x1="424.3" y1="277.4" x2="436" y2="268" stroke="#505050" stroke-width="0.55"/>
<text x="412.3" y="277.6" font-size="6.6" fill="#1a1a1a" stroke="#1a1a1a" stroke-width="0.18" textLength="5.4" lengthAdjust="spacingAndGlyphs">53</text>
<line x1="468.9" y1="224.9" x2="484" y2="224.9" stroke="#505050" stroke-width="0.6"/>
<line x1="468.9" y1="224.9" x2="454.3" y2="213.7" stroke="#505050" stroke-width="0.55"/>
<text x="476.6" y="225.1" font-size="6.6" fill="#1a1a1a" stroke="#1a1a1a" stroke-width="0.18" textLength="5.4" lengthAdjust="spacingAndGlyphs">74</text>
<line x1="468" y1="236.9" x2="483.4" y2="236.9" stroke="#505050" stroke-width="0.6"/>
<line x1="468" y1="236.9" x2="459.5" y2="230" stroke="#505050" stroke-width="0.55"/>
<text x="476" y="237.1" font-size="6.6" fill="#1a1a1a" stroke="#1a1a1a" stroke-width="0.18" textLength="5.4" lengthAdjust="spacingAndGlyphs">53</text>
<line x1="469.7" y1="246.3" x2="484" y2="246.3" stroke="#505050" stroke-width="0.6"/>
<line x1="469.7" y1="246.3" x2="458.6" y2="238.6" stroke="#505050" stroke-width="0.55"/>
<text x="476.6" y="246.5" font-size="6.6" fill="#1a1a1a" stroke="#1a1a1a" stroke-width="0.18" textLength="5.4" lengthAdjust="spacingAndGlyphs">70</text>
<line x1="464.6" y1="256.6" x2="482.6" y2="256.6" stroke="#505050" stroke-width="0.6"/>
<line x1="464.6" y1="256.6" x2="446.6" y2="242" stroke="#505050" stroke-width="0.55"/>
<text x="475.2" y="256.8" font-size="6.6" fill="#1a1a1a" stroke="#1a1a1a" stroke-width="0.18" textLength="5.4" lengthAdjust="spacingAndGlyphs">23</text>
<line x1="470.6" y1="266" x2="484" y2="266" stroke="#505050" stroke-width="0.6"/>
<line x1="470.6" y1="266" x2="456" y2="254" stroke="#505050" stroke-width="0.55"/>
<text x="476.6" y="266.2" font-size="6.6" fill="#1a1a1a" stroke="#1a1a1a" stroke-width="0.18" textLength="5.4" lengthAdjust="spacingAndGlyphs">13</text>
<line x1="468" y1="274" x2="484" y2="274" stroke="#505050" stroke-width="0.6"/>
<line x1="468" y1="274" x2="456" y2="263.4" stroke="#505050" stroke-width="0.55"/>
<text x="476.6" y="274.2" font-size="6.6" fill="#1a1a1a" stroke="#1a1a1a" stroke-width="0.18" textLength="5.4" lengthAdjust="spacingAndGlyphs">53</text>
<line x1="385" y1="312" x2="410" y2="312" stroke="#505050" stroke-width="0.6"/>
<line x1="410" y1="312" x2="422" y2="293" stroke="#505050" stroke-width="0.55"/>
<text x="387.3" y="312.2" font-size="6.6" fill="#1a1a1a" stroke="#1a1a1a" stroke-width="0.18" textLength="18" lengthAdjust="spacingAndGlyphs">Ø50x8.4</text>
<line x1="395" y1="326" x2="410" y2="326" stroke="#505050" stroke-width="0.6"/>
<line x1="410" y1="326" x2="432" y2="298" stroke="#505050" stroke-width="0.55"/>
<text x="397.3" y="326.2" font-size="6.6" fill="#1a1a1a" stroke="#1a1a1a" stroke-width="0.18" textLength="5.4" lengthAdjust="spacingAndGlyphs">78</text>
<line x1="374" y1="350" x2="399" y2="350" stroke="#505050" stroke-width="0.6"/>
<line x1="399" y1="350" x2="425" y2="315" stroke="#505050" stroke-width="0.55"/>
<text x="376.3" y="350.2" font-size="6.6" fill="#1a1a1a" stroke="#1a1a1a" stroke-width="0.18" textLength="18" lengthAdjust="spacingAndGlyphs">Ø50x8.4</text>
<line x1="476" y1="319.4" x2="490" y2="319.4" stroke="#505050" stroke-width="0.6"/>
<line x1="476" y1="319.4" x2="466" y2="312" stroke="#505050" stroke-width="0.55"/>
<text x="482.6" y="319.6" font-size="6.6" fill="#1a1a1a" stroke="#1a1a1a" stroke-width="0.18" textLength="5.4" lengthAdjust="spacingAndGlyphs">89</text>
<line x1="470" y1="341" x2="485" y2="341" stroke="#505050" stroke-width="0.6"/>
<line x1="470" y1="341" x2="451" y2="316" stroke="#505050" stroke-width="0.55"/>
<text x="477.6" y="341.2" font-size="6.6" fill="#1a1a1a" stroke="#1a1a1a" stroke-width="0.18" textLength="5.4" lengthAdjust="spacingAndGlyphs">78</text>
<path d="M 573.7 66.5 L 573.7 61.4 Q 569.7 59.9 568.7 56.9 Q 568.7 52.9 572.7 52.9 L 578.2 52.9 Q 583.7 53.2 583.7 58.9 L 583.7 66.5 Q 583.7 67.5 582.2 67.5 L 575.2 67.5 Q 573.7 67.5 573.7 66.5" stroke="#2020ff" stroke-width="0.54" fill="none"/>
<path d="M 572.9 53.2 Q 570.3 55.4 570.1 58.9" stroke="#2020ff" stroke-width="0.48" fill="none"/>
<line x1="574" y1="58.7" x2="573.7" y2="61.7" stroke="#2020ff" stroke-width="0.48"/>
<line x1="575.1" y1="67.5" x2="575.1" y2="102.5" stroke="#2020ff" stroke-width="0.48"/>
<line x1="582.3" y1="67.5" x2="582.3" y2="102.5" stroke="#2020ff" stroke-width="0.48"/>
<rect x="574.3" y="102.5" width="8.2" height="12.8" stroke="#2020ff" stroke-width="0.54" fill="none"/>
<line x1="574.3" y1="103.7" x2="582.5" y2="103.7" stroke="#2020ff" stroke-width="0.34"/>
<circle cx="581.5" cy="110.2" r="4.8" stroke="#2020ff" stroke-width="1.56" fill="#fff"/>
<path d="M 577.5 106.6 Q 573 110.2 577.5 113.8" stroke="#2020ff" stroke-width="0.54" fill="none"/>
<path d="M 578.3 106.3 Q 574.5 110.2 578.3 114.1" stroke="#2020ff" stroke-width="0.41" fill="none"/>
<circle cx="581.5" cy="110.2" r="3.2" stroke="#2020ff" stroke-width="0.34" fill="none"/>
<line x1="579.9" y1="108.6" x2="583.3" y2="112" stroke="#2020ff" stroke-width="0.34"/>
<line x1="575.2" y1="115.3" x2="575.2" y2="201.2" stroke="#2020ff" stroke-width="0.48"/>
<line x1="582" y1="115.3" x2="582" y2="201.2" stroke="#2020ff" stroke-width="0.48"/>
<rect x="573.5" y="201.2" width="8.5" height="15.2" stroke="#2020ff" stroke-width="0.54" fill="none"/>
<line x1="573.5" y1="202.4" x2="582" y2="202.4" stroke="#2020ff" stroke-width="0.34"/>
<line x1="582" y1="197" x2="582" y2="209" stroke="#2020ff" stroke-width="0.48"/>
<line x1="586.8" y1="197" x2="586.8" y2="209" stroke="#2020ff" stroke-width="0.48"/>
<path d="M 586.8 209 Q 586.8 213 581 213 M 582 209 Q 580.5 207.5 578.5 208" stroke="#2020ff" stroke-width="0.54" fill="none"/>
<circle cx="580.5" cy="209.5" r="2.5" stroke="#2020ff" stroke-width="0.48" fill="none"/>
<line x1="575.2" y1="216.4" x2="575.2" y2="221.8" stroke="#2020ff" stroke-width="0.48"/>
<line x1="582" y1="216.4" x2="582" y2="221.8" stroke="#2020ff" stroke-width="0.48"/>
<path d="M 575.1 221.8 L 581.6 221.8 Q 583.4 227.25 581.6 232.7 L 575.1 232.7 Q 573.3 227.25 575.1 221.8 Z" stroke="#2020ff" stroke-width="0.54" fill="none"/>
<line x1="574.3" y1="225.43" x2="582.4" y2="225.43" stroke="#2020ff" stroke-width="0.41"/>
<line x1="574.3" y1="229.07" x2="582.4" y2="229.07" stroke="#2020ff" stroke-width="0.41"/>
<line x1="574.1" y1="233.2" x2="582.6" y2="233.2" stroke="#2020ff" stroke-width="0.82"/>
<rect x="575.2" y="233.4" width="6.8" height="11.2" stroke="#2020ff" stroke-width="0.48" fill="none"/>
<line x1="575.2" y1="244.4" x2="582" y2="244.4" stroke="#2020ff" stroke-width="0.82"/>
<path d="M 578 236 L 580.5 239 L 578 242" stroke="#2020ff" stroke-width="0.41" fill="none"/>
<ellipse cx="584.2" cy="238.5" rx="1.2" ry="4.4" stroke="#2020ff" stroke-width="0.54" fill="none"/>
<ellipse cx="586.6" cy="238.5" rx="1.2" ry="4.4" stroke="#2020ff" stroke-width="0.54" fill="none"/>
<ellipse cx="589" cy="238.5" rx="1.2" ry="4.4" stroke="#2020ff" stroke-width="0.54" fill="none"/>
<line x1="584.2" y1="234.1" x2="589" y2="234.1" stroke="#2020ff" stroke-width="0.41"/>
<line x1="584.2" y1="242.9" x2="589" y2="242.9" stroke="#2020ff" stroke-width="0.41"/>
<ellipse cx="591.8" cy="238.5" rx="1.1" ry="3.6" stroke="#ff2020" stroke-width="0.95" fill="none"/>
<line x1="592.5" y1="235.8" x2="598.3" y2="235.8" stroke="#ff2020" stroke-width="0.48"/>
<line x1="592.5" y1="241.2" x2="598.3" y2="241.2" stroke="#ff2020" stroke-width="0.48"/>
<rect x="575.2" y="247.2" width="7" height="10.2" stroke="#2020ff" stroke-width="0.48" fill="none"/>
<path d="M 575.2 250 L 582.2 250 M 575.2 255 L 582.2 255 M 576.7 251 Q 578.7 252.5 576.7 254 M 580.7 251 Q 578.7 252.5 580.7 254" stroke="#2020ff" stroke-width="0.34" fill="none"/>
<circle cx="581" cy="253" r="1.1" stroke="#2020ff" stroke-width="0" fill="#2020ff"/>
<path d="M 575 262.8 L 582.5 262.8 Q 584.3 267.75 582.5 272.7 L 575 272.7 Q 573.2 267.75 575 262.8 Z" stroke="#2020ff" stroke-width="0.54" fill="none"/>
<line x1="574.2" y1="266.1" x2="583.3" y2="266.1" stroke="#2020ff" stroke-width="0.41"/>
<line x1="574.2" y1="269.4" x2="583.3" y2="269.4" stroke="#2020ff" stroke-width="0.41"/>
<line x1="574" y1="264" x2="583.5" y2="264" stroke="#2020ff" stroke-width="0.68"/>
<path d="M 573.5 272.7 L 573.5 276 Q 574 282.5 578.4 284" stroke="#2020ff" stroke-width="0.54" fill="none"/>
<line x1="582.7" y1="272.7" x2="582.7" y2="276.9" stroke="#2020ff" stroke-width="0.54"/>
<path d="M 578.4 291 L 578.4 281 Q 578.4 276.9 583.5 276.9 Q 589.8 276.9 589.8 283 L 589.8 291 Z" stroke="#2020ff" stroke-width="0.54" fill="none"/>
<line x1="580.6" y1="291" x2="580.6" y2="305.9" stroke="#2020ff" stroke-width="0.48"/>
<line x1="589" y1="291" x2="589" y2="305.9" stroke="#2020ff" stroke-width="0.48"/>
<rect x="579.9" y="305.9" width="9.9" height="13.5" stroke="#2020ff" stroke-width="0.54" fill="none" rx="3"/>
<ellipse cx="575.6" cy="311.9" rx="3.5" ry="5.3" stroke="#2020ff" stroke-width="0.54" fill="none"/>
<circle cx="576.5" cy="312" r="2.8" stroke="#2020ff" stroke-width="0.41" fill="none"/>
<line x1="589.8" y1="305.2" x2="613.5" y2="305.2" stroke="#2020ff" stroke-width="0.48"/>
<line x1="589.8" y1="314.4" x2="613.5" y2="314.4" stroke="#2020ff" stroke-width="0.48"/>
<ellipse cx="616" cy="309.5" rx="2.8" ry="7" stroke="#2020ff" stroke-width="0.54" fill="none"/>
<ellipse cx="614" cy="309.5" rx="1.6" ry="5.5" stroke="#2020ff" stroke-width="0.41" fill="none"/>
<path d="M 595.5 65.4 L 595.5 59.9 Q 591.5 58.4 590.5 55.4 Q 590.5 51.4 594.5 51.4 L 599.6 51.4 Q 605.1 51.7 605.1 57.4 L 605.1 65.4 Q 605.1 66.4 603.6 66.4 L 597 66.4 Q 595.5 66.4 595.5 65.4" stroke="#ff2020" stroke-width="0.54" fill="none"/>
<path d="M 594.7 51.7 Q 592.1 53.9 591.9 57.4" stroke="#ff2020" stroke-width="0.48" fill="none"/>
<line x1="595.8" y1="57.2" x2="595.5" y2="60.2" stroke="#ff2020" stroke-width="0.48"/>
<line x1="596.6" y1="66.4" x2="596.6" y2="101.3" stroke="#ff2020" stroke-width="0.48"/>
<line x1="604.1" y1="66.4" x2="604.1" y2="101.3" stroke="#ff2020" stroke-width="0.48"/>
<rect x="596.3" y="101.3" width="8.5" height="14" stroke="#ff2020" stroke-width="0.54" fill="none"/>
<line x1="596.3" y1="102.5" x2="604.8" y2="102.5" stroke="#ff2020" stroke-width="0.34"/>
<circle cx="603.1" cy="109.3" r="4.8" stroke="#ff2020" stroke-width="1.56" fill="#fff"/>
<path d="M 599.1 105.7 Q 594.6 109.3 599.1 112.9" stroke="#ff2020" stroke-width="0.54" fill="none"/>
<path d="M 599.9 105.4 Q 596.1 109.3 599.9 113.2" stroke="#ff2020" stroke-width="0.41" fill="none"/>
<circle cx="603.1" cy="109.3" r="3.2" stroke="#ff2020" stroke-width="0.34" fill="none"/>
<line x1="601.5" y1="107.7" x2="604.9" y2="111.1" stroke="#ff2020" stroke-width="0.34"/>
<line x1="597" y1="115.3" x2="597" y2="156.6" stroke="#ff2020" stroke-width="0.48"/>
<line x1="604.3" y1="115.3" x2="604.3" y2="156.6" stroke="#ff2020" stroke-width="0.48"/>
<rect x="595.2" y="156.6" width="10" height="14.6" stroke="#ff2020" stroke-width="0.54" fill="none"/>
<line x1="595.2" y1="157.8" x2="605.2" y2="157.8" stroke="#ff2020" stroke-width="0.34"/>
<line x1="585.5" y1="164.3" x2="603" y2="164.3" stroke="#ff2020" stroke-width="0.48"/>
<line x1="585.5" y1="168.6" x2="603" y2="168.6" stroke="#ff2020" stroke-width="0.48"/>
<path d="M 603 164.3 Q 607.5 164.3 607.5 166.4 Q 607.5 168.6 603 168.6" stroke="#ff2020" stroke-width="0.54" fill="none"/>
<circle cx="605" cy="166.4" r="2" stroke="#ff2020" stroke-width="0.41" fill="none"/>
<path d="M 585.5 164.3 L 585 164.3 Q 581 164.3 581 168.5 L 581 171.2 L 587 171.2 L 587 168.6" stroke="#ff2020" stroke-width="0.54" fill="none"/>
<line x1="582" y1="171.2" x2="582" y2="176.3" stroke="#ff2020" stroke-width="0.48"/>
<line x1="586" y1="171.2" x2="586" y2="176.3" stroke="#ff2020" stroke-width="0.48"/>
<path d="M 581.8 176.3 L 585.6 176.3 Q 587.4 179.3 585.6 182.3 L 581.8 182.3 Q 580 179.3 581.8 176.3 Z" stroke="#ff2020" stroke-width="0.54" fill="none"/>
<line x1="581" y1="179.3" x2="586.4" y2="179.3" stroke="#ff2020" stroke-width="0.41"/>
<line x1="580.8" y1="184.8" x2="586.6" y2="184.8" stroke="#ff2020" stroke-width="1.02"/>
<circle cx="584.4" cy="187.9" r="2.7" stroke="#ff2020" stroke-width="1.09" fill="none"/>
<path d="M 580.8 184.8 L 581.8 192.1 M 586.6 184.8 L 585.6 192.1" stroke="#ff2020" stroke-width="0.41" fill="none"/>
<line x1="580.8" y1="192.1" x2="586.6" y2="192.1" stroke="#ff2020" stroke-width="1.02"/>
<rect x="580.8" y="192.7" width="6" height="4.3" stroke="#2020ff" stroke-width="0.54" fill="none"/>
<line x1="580.8" y1="194.8" x2="586.8" y2="194.8" stroke="#2020ff" stroke-width="0.68"/>
<line x1="592.3" y1="185.2" x2="592.3" y2="195.2" stroke="#ff2020" stroke-width="0.48"/>
<path d="M 590.7 187.2 L 592.3 184.2 L 593.9 187.2" stroke="#ff2020" stroke-width="0.48" fill="none"/>
<line x1="597" y1="171.2" x2="597" y2="172.9" stroke="#ff2020" stroke-width="0.48"/>
<line x1="604.3" y1="171.2" x2="604.3" y2="172.9" stroke="#ff2020" stroke-width="0.48"/>
<path d="M 596.7 172.9 L 603.8 172.9 Q 605.6 177.2 603.8 181.5 L 596.7 181.5 Q 594.9 177.2 596.7 172.9 Z" stroke="#ff2020" stroke-width="0.54" fill="none"/>
<line x1="595.9" y1="175.77" x2="604.6" y2="175.77" stroke="#ff2020" stroke-width="0.41"/>
<line x1="595.9" y1="178.63" x2="604.6" y2="178.63" stroke="#ff2020" stroke-width="0.41"/>
<rect x="596.2" y="184" width="8.3" height="5.5" stroke="#ff2020" stroke-width="0.54" fill="none"/>
<line x1="596.2" y1="192.7" x2="604.5" y2="192.7" stroke="#ff2020" stroke-width="0.82"/>
<line x1="597.1" y1="192.7" x2="597.1" y2="204.2" stroke="#ff2020" stroke-width="0.48"/>
<line x1="603.8" y1="192.7" x2="603.8" y2="204.2" stroke="#ff2020" stroke-width="0.48"/>
<path d="M 607.3 205.9 L 598.8 205.9 Q 592.8 205.9 592.8 214.2 Q 592.8 222.4 597.8 222.4" stroke="#ff2020" stroke-width="0.48" fill="none"/>
<path d="M 594.8 208.2 Q 593.8 215.2 595.3 221.2" stroke="#ff2020" stroke-width="0.34" fill="none"/>
<path d="M 596.3 209.2 L 602.8 208.2 L 603.3 220 L 596.3 220 Z" stroke="#ff2020" stroke-width="0.48" fill="none"/>
<rect x="597.3" y="210.7" width="4.5" height="7.5" stroke="#ff2020" stroke-width="0.27" fill="none"/>
<rect x="596.5" y="213.8" width="2.4" height="2" stroke="#ff2020" stroke-width="0" fill="#ff2020"/>
<circle cx="606.8" cy="215.2" r="5.6" stroke="#ff2020" stroke-width="0.54" fill="none"/>
<line x1="603.6" y1="205.9" x2="609.3" y2="208.2" stroke="#ff2020" stroke-width="0.34"/>
<rect x="596.3" y="222.4" width="17.3" height="4.4" stroke="#ff2020" stroke-width="0.48" fill="none" rx="1.5"/>
<line x1="600.8" y1="222.4" x2="600.8" y2="226.8" stroke="#ff2020" stroke-width="0.34"/>
<line x1="603.3" y1="211.7" x2="610.3" y2="218.7" stroke="#505050" stroke-width="0"/>
<rect x="597.5" y="226" width="7" height="5" stroke="#ff2020" stroke-width="0.48" fill="none"/>
<rect x="598.3" y="234.3" width="8.6" height="8.6" stroke="#ff2020" stroke-width="0.54" fill="none"/>
<circle cx="603.5" cy="238.6" r="2.3" stroke="#ff2020" stroke-width="0.41" fill="none"/>
<line x1="598.3" y1="234.5" x2="600.5" y2="234.5" stroke="#ff2020" stroke-width="0.82"/>
<line x1="604.5" y1="234.5" x2="606.9" y2="234.5" stroke="#ff2020" stroke-width="0.82"/>
<line x1="598.3" y1="242.7" x2="600.5" y2="242.7" stroke="#ff2020" stroke-width="0.82"/>
<line x1="604.5" y1="242.7" x2="606.9" y2="242.7" stroke="#ff2020" stroke-width="0.82"/>
<line x1="597.5" y1="245.4" x2="604.5" y2="245.4" stroke="#ff2020" stroke-width="1.02"/>
<rect x="597.3" y="248" width="7.2" height="10.3" stroke="#ff2020" stroke-width="0.48" fill="none"/>
<path d="M 597.3 250.8 L 604.5 250.8 M 597.3 255.5 L 604.5 255.5 M 598.8 252 Q 600.8 253.2 598.8 254.5 M 603 252 Q 601 253.2 603 254.5" stroke="#ff2020" stroke-width="0.34" fill="none"/>
<circle cx="602" cy="253.5" r="0.9" stroke="#ff2020" stroke-width="0" fill="#ff2020"/>
<path d="M 597.1 263.5 L 603.8 263.5 Q 605.6 267.75 603.8 272 L 597.1 272 Q 595.3 267.75 597.1 263.5 Z" stroke="#ff2020" stroke-width="0.54" fill="none"/>
<line x1="596.3" y1="266.33" x2="604.6" y2="266.33" stroke="#ff2020" stroke-width="0.41"/>
<line x1="596.3" y1="269.17" x2="604.6" y2="269.17" stroke="#ff2020" stroke-width="0.41"/>
<line x1="596.1" y1="272" x2="596.1" y2="280.5" stroke="#ff2020" stroke-width="0.48"/>
<line x1="603.9" y1="272" x2="603.9" y2="280.5" stroke="#ff2020" stroke-width="0.48"/>
<path d="M 596.1 280.5 L 596.1 283 Q 600 286 603.9 283 L 603.9 280.5" stroke="#ff2020" stroke-width="0.48" fill="none"/>
<ellipse cx="574.5" cy="291" rx="1.7" ry="4.3" stroke="#ff2020" stroke-width="0.54" fill="none"/>
<line x1="574.5" y1="286.8" x2="579.1" y2="286.8" stroke="#ff2020" stroke-width="0.48"/>
<line x1="574.5" y1="295.3" x2="579.1" y2="295.3" stroke="#ff2020" stroke-width="0.48"/>
<path d="M 589.8 283.3 L 610.3 283.3 M 589.8 296 L 610.3 296" stroke="#ff2020" stroke-width="0.54" fill="none"/>
<ellipse cx="615.5" cy="289" rx="3.2" ry="7" stroke="#ff2020" stroke-width="0.54" fill="none"/>
<ellipse cx="613" cy="289.5" rx="1.8" ry="6" stroke="#ff2020" stroke-width="0.41" fill="none"/>
<line x1="554.6" y1="109.3" x2="568.3" y2="109.3" stroke="#505050" stroke-width="0.6"/>
<line x1="568.3" y1="109.3" x2="572.6" y2="103.3" stroke="#505050" stroke-width="0.55"/>
<text x="556.9" y="109.5" font-size="6.6" fill="#1a1a1a" stroke="#1a1a1a" stroke-width="0.18" textLength="5.4" lengthAdjust="spacingAndGlyphs">67</text>
<line x1="556.3" y1="124.2" x2="568.3" y2="124.2" stroke="#505050" stroke-width="0.6"/>
<line x1="568.3" y1="124.2" x2="581.2" y2="111" stroke="#505050" stroke-width="0.55"/>
<text x="558.6" y="124.4" font-size="6.6" fill="#1a1a1a" stroke="#1a1a1a" stroke-width="0.18" textLength="5.4" lengthAdjust="spacingAndGlyphs">31</text>
<line x1="609.5" y1="94.7" x2="621.5" y2="94.7" stroke="#505050" stroke-width="0.6"/>
<line x1="609.5" y1="94.7" x2="604.3" y2="101.3" stroke="#505050" stroke-width="0.55"/>
<text x="614.1" y="94.9" font-size="6.6" fill="#1a1a1a" stroke="#1a1a1a" stroke-width="0.18" textLength="5.4" lengthAdjust="spacingAndGlyphs">67</text>
<line x1="611.7" y1="117" x2="623.7" y2="117" stroke="#505050" stroke-width="0.6"/>
<line x1="611.7" y1="117" x2="606" y2="109.3" stroke="#505050" stroke-width="0.55"/>
<text x="616.3" y="117.2" font-size="6.6" fill="#1a1a1a" stroke="#1a1a1a" stroke-width="0.18" textLength="5.4" lengthAdjust="spacingAndGlyphs">31</text>
<line x1="613.8" y1="152.3" x2="624.9" y2="152.3" stroke="#505050" stroke-width="0.6"/>
<line x1="613.8" y1="152.3" x2="604.3" y2="157.4" stroke="#505050" stroke-width="0.55"/>
<text x="617.5" y="152.5" font-size="6.6" fill="#1a1a1a" stroke="#1a1a1a" stroke-width="0.18" textLength="5.4" lengthAdjust="spacingAndGlyphs">74</text>
<line x1="615.5" y1="172.9" x2="624.9" y2="172.9" stroke="#505050" stroke-width="0.6"/>
<line x1="615.5" y1="172.9" x2="603.5" y2="180.6" stroke="#505050" stroke-width="0.55"/>
<text x="617.5" y="173.1" font-size="6.6" fill="#1a1a1a" stroke="#1a1a1a" stroke-width="0.18" textLength="5.4" lengthAdjust="spacingAndGlyphs">53</text>
<line x1="610.3" y1="183.5" x2="624.9" y2="183.5" stroke="#505050" stroke-width="0.6"/>
<line x1="610.3" y1="183.5" x2="602.6" y2="188.3" stroke="#505050" stroke-width="0.55"/>
<text x="620.2" y="183.7" font-size="6.6" fill="#1a1a1a" stroke="#1a1a1a" stroke-width="0.18" textLength="2.7" lengthAdjust="spacingAndGlyphs">7</text>
<line x1="617.2" y1="203.4" x2="625.8" y2="203.4" stroke="#505050" stroke-width="0.6"/>
<line x1="617.2" y1="203.4" x2="601.7" y2="194.3" stroke="#505050" stroke-width="0.55"/>
<text x="618.4" y="203.6" font-size="6.6" fill="#1a1a1a" stroke="#1a1a1a" stroke-width="0.18" textLength="5.4" lengthAdjust="spacingAndGlyphs">23</text>
<line x1="558.9" y1="175.4" x2="570" y2="175.4" stroke="#505050" stroke-width="0.6"/>
<line x1="570" y1="175.4" x2="582.9" y2="185.7" stroke="#505050" stroke-width="0.55"/>
<text x="561.2" y="175.6" font-size="6.6" fill="#1a1a1a" stroke="#1a1a1a" stroke-width="0.18" textLength="2.7" lengthAdjust="spacingAndGlyphs">9</text>
<line x1="555.4" y1="209.2" x2="564.9" y2="209.2" stroke="#505050" stroke-width="0.6"/>
<line x1="564.9" y1="209.2" x2="574.3" y2="201.2" stroke="#505050" stroke-width="0.55"/>
<text x="557.7" y="209.4" font-size="6.6" fill="#1a1a1a" stroke="#1a1a1a" stroke-width="0.18" textLength="5.4" lengthAdjust="spacingAndGlyphs">74</text>
<line x1="554.6" y1="235.1" x2="567.4" y2="235.1" stroke="#505050" stroke-width="0.6"/>
<line x1="567.4" y1="235.1" x2="575.2" y2="228.3" stroke="#505050" stroke-width="0.55"/>
<text x="556.9" y="235.3" font-size="6.6" fill="#1a1a1a" stroke="#1a1a1a" stroke-width="0.18" textLength="5.4" lengthAdjust="spacingAndGlyphs">53</text>
<line x1="554.6" y1="247.2" x2="567.4" y2="247.2" stroke="#505050" stroke-width="0.6"/>
<line x1="567.4" y1="247.2" x2="575.2" y2="240.3" stroke="#505050" stroke-width="0.55"/>
<text x="556.9" y="247.4" font-size="6.6" fill="#1a1a1a" stroke="#1a1a1a" stroke-width="0.18" textLength="5.4" lengthAdjust="spacingAndGlyphs">70</text>
<line x1="554.6" y1="254.5" x2="567.4" y2="254.5" stroke="#505050" stroke-width="0.6"/>
<line x1="567.4" y1="254.5" x2="583.7" y2="237.7" stroke="#505050" stroke-width="0.55"/>
<text x="556.9" y="254.7" font-size="6.6" fill="#1a1a1a" stroke="#1a1a1a" stroke-width="0.18" textLength="5.4" lengthAdjust="spacingAndGlyphs">95</text>
<line x1="554.6" y1="262.1" x2="567.4" y2="262.1" stroke="#505050" stroke-width="0.6"/>
<line x1="567.4" y1="262.1" x2="574.3" y2="253.2" stroke="#505050" stroke-width="0.55"/>
<text x="556.9" y="262.3" font-size="6.6" fill="#1a1a1a" stroke="#1a1a1a" stroke-width="0.18" textLength="5.4" lengthAdjust="spacingAndGlyphs">13</text>
<line x1="554.6" y1="272" x2="567.4" y2="272" stroke="#505050" stroke-width="0.6"/>
<line x1="567.4" y1="272" x2="574.3" y2="264.3" stroke="#505050" stroke-width="0.55"/>
<text x="556.9" y="272.2" font-size="6.6" fill="#1a1a1a" stroke="#1a1a1a" stroke-width="0.18" textLength="5.4" lengthAdjust="spacingAndGlyphs">53</text>
<line x1="615.5" y1="219.7" x2="625.8" y2="219.7" stroke="#505050" stroke-width="0.6"/>
<line x1="615.5" y1="219.7" x2="606" y2="210.3" stroke="#505050" stroke-width="0.55"/>
<text x="618.4" y="219.9" font-size="6.6" fill="#1a1a1a" stroke="#1a1a1a" stroke-width="0.18" textLength="5.4" lengthAdjust="spacingAndGlyphs">46</text>
<line x1="615.5" y1="233.4" x2="624.9" y2="233.4" stroke="#505050" stroke-width="0.6"/>
<line x1="615.5" y1="233.4" x2="602.6" y2="228.3" stroke="#505050" stroke-width="0.55"/>
<text x="617.5" y="233.6" font-size="6.6" fill="#1a1a1a" stroke="#1a1a1a" stroke-width="0.18" textLength="5.4" lengthAdjust="spacingAndGlyphs">27</text>
<line x1="617.2" y1="247.2" x2="624.9" y2="247.2" stroke="#505050" stroke-width="0.6"/>
<line x1="617.2" y1="247.2" x2="604.3" y2="238.6" stroke="#505050" stroke-width="0.55"/>
<text x="617.5" y="247.4" font-size="6.6" fill="#1a1a1a" stroke="#1a1a1a" stroke-width="0.18" textLength="5.4" lengthAdjust="spacingAndGlyphs">10</text>
<line x1="615.5" y1="254.5" x2="624.9" y2="254.5" stroke="#505050" stroke-width="0.6"/>
<line x1="615.5" y1="254.5" x2="593.2" y2="236.9" stroke="#505050" stroke-width="0.55"/>
<text x="617.5" y="254.7" font-size="6.6" fill="#1a1a1a" stroke="#1a1a1a" stroke-width="0.18" textLength="5.4" lengthAdjust="spacingAndGlyphs">23</text>
<line x1="615.5" y1="261.4" x2="624.9" y2="261.4" stroke="#505050" stroke-width="0.6"/>
<line x1="615.5" y1="261.4" x2="600.9" y2="254" stroke="#505050" stroke-width="0.55"/>
<text x="617.5" y="261.6" font-size="6.6" fill="#1a1a1a" stroke="#1a1a1a" stroke-width="0.18" textLength="5.4" lengthAdjust="spacingAndGlyphs">13</text>
<line x1="617.2" y1="275.5" x2="628.3" y2="275.5" stroke="#505050" stroke-width="0.6"/>
<line x1="617.2" y1="275.5" x2="602.6" y2="264.3" stroke="#505050" stroke-width="0.55"/>
<text x="620.9" y="275.7" font-size="6.6" fill="#1a1a1a" stroke="#1a1a1a" stroke-width="0.18" textLength="5.4" lengthAdjust="spacingAndGlyphs">53</text>
<line x1="540" y1="308.6" x2="564" y2="308.6" stroke="#505050" stroke-width="0.6"/>
<line x1="564" y1="308.6" x2="576" y2="291" stroke="#505050" stroke-width="0.55"/>
<text x="542.3" y="308.8" font-size="6.6" fill="#1a1a1a" stroke="#1a1a1a" stroke-width="0.18" textLength="18" lengthAdjust="spacingAndGlyphs">Ø50x8.4</text>
<line x1="606" y1="335" x2="629" y2="335" stroke="#505050" stroke-width="0.6"/>
<line x1="606" y1="335" x2="587" y2="313" stroke="#505050" stroke-width="0.55"/>
<text x="609" y="335.2" font-size="6.6" fill="#1a1a1a" stroke="#1a1a1a" stroke-width="0.18" textLength="18" lengthAdjust="spacingAndGlyphs">Ø50x8.4</text>
<path d="M 222 459 L 222 411.5 L 223.5 408.5 L 236.5 408.5 L 243.5 411 L 243.5 459 Q 243.5 461.8 241 461.8 L 224.5 461.8 Q 222 461.8 222 459 Z" stroke="#6a6a6a" stroke-width="0.6" fill="none"/>
<path d="M 243.5 410 Q 246.5 410 246.5 412.5 Q 246.5 415 243.5 415" stroke="#6a6a6a" stroke-width="0.5" fill="none"/>
<path d="M 243.5 452.8 Q 246.5 452.8 246.5 455.3 Q 246.5 457.8 243.5 457.8" stroke="#6a6a6a" stroke-width="0.5" fill="none"/>
<path d="M 232 456.2 L 239.2 456.2 Q 235.6 459 232 456.2 Z" stroke="#222" stroke-width="0.9" fill="#222"/>
<rect x="231" y="463.4" width="1.9" height="3.8" stroke="none" stroke-width="0" fill="#3a3a3a"/>
<rect x="234" y="464" width="1.9" height="3.2" stroke="none" stroke-width="0" fill="#3a3a3a"/>
<line x1="232.9" y1="465.3" x2="234" y2="465.3" stroke="#555" stroke-width="0.8"/>
<line x1="231.5" y1="469" x2="236" y2="469" stroke="#aaa" stroke-width="0.6"/>
<rect x="230.4" y="393.6" width="5.4" height="7.9" stroke="#6a6a6a" stroke-width="0.6" fill="none"/>
<line x1="230.4" y1="394" x2="235.8" y2="394" stroke="#2a2a2a" stroke-width="1.2"/>
<line x1="231.5" y1="393.2" x2="231.5" y2="394.5" stroke="#2a2a2a" stroke-width="0.8"/>
<line x1="230.6" y1="402.1" x2="235.6" y2="402.1" stroke="#333" stroke-width="1.1"/>
<rect x="230.6" y="404.4" width="2.2" height="3.6" stroke="none" stroke-width="0" fill="#3a3a3a"/>
<rect x="233.7" y="405" width="2.2" height="3.2" stroke="none" stroke-width="0" fill="#2a2a2a"/>
<ellipse cx="188.2" cy="426.6" rx="1.3" ry="5.4" stroke="#ff2020" stroke-width="0.41" fill="none"/>
<line x1="188.2" y1="421.2" x2="194.5" y2="421.2" stroke="#ff2020" stroke-width="0.41"/>
<line x1="188.2" y1="432" x2="194.5" y2="432" stroke="#ff2020" stroke-width="0.41"/>
<line x1="190.8" y1="421.2" x2="190.8" y2="432" stroke="#ff2020" stroke-width="0.34"/>
<line x1="192.8" y1="421.2" x2="192.8" y2="432" stroke="#ff2020" stroke-width="0.34"/>
<path d="M 194.5 419.6 L 201 419.6 L 203 421.2 L 203 432 L 201 433.6 L 194.5 433.6 Z" stroke="#ff2020" stroke-width="0.41" fill="none"/>
<ellipse cx="194.5" cy="426.6" rx="1.4" ry="7" stroke="#ff2020" stroke-width="0.41" fill="none"/>
<line x1="198" y1="419.6" x2="198" y2="433.6" stroke="#ff2020" stroke-width="0.34"/>
<ellipse cx="205.3" cy="426.6" rx="1.3" ry="6.3" stroke="#ff2020" stroke-width="0.41" fill="none"/>
<ellipse cx="208.6" cy="426.6" rx="1.3" ry="6.6" stroke="#ff2020" stroke-width="0.41" fill="none"/>
<ellipse cx="211.9" cy="426.6" rx="1.3" ry="6.3" stroke="#ff2020" stroke-width="0.41" fill="none"/>
<line x1="204" y1="420.3" x2="213.2" y2="420.3" stroke="#ff2020" stroke-width="0.41"/>
<line x1="204" y1="432.9" x2="213.2" y2="432.9" stroke="#ff2020" stroke-width="0.41"/>
<ellipse cx="215.6" cy="426.6" rx="1.4" ry="6.4" stroke="#ff2020" stroke-width="0.41" fill="none"/>
<ellipse cx="218.6" cy="426.6" rx="1.4" ry="6.4" stroke="#ff2020" stroke-width="0.41" fill="none"/>
<ellipse cx="221" cy="426.6" rx="1.2" ry="6" stroke="#ff2020" stroke-width="0.41" fill="none"/>
<line x1="214.5" y1="420.2" x2="222" y2="420.2" stroke="#ff2020" stroke-width="0.41"/>
<line x1="214.5" y1="433" x2="222" y2="433" stroke="#ff2020" stroke-width="0.41"/>
<ellipse cx="188.2" cy="447.2" rx="1.3" ry="4.6" stroke="#2020ff" stroke-width="0.41" fill="none"/>
<line x1="188.2" y1="442.6" x2="196.5" y2="442.6" stroke="#2020ff" stroke-width="0.41"/>
<line x1="188.2" y1="451.8" x2="196.5" y2="451.8" stroke="#2020ff" stroke-width="0.41"/>
<path d="M 196.5 440.2 L 202 440.2 L 203.5 442 L 203.5 452.5 L 202 454.3 L 196.5 454.3 Z" stroke="#2020ff" stroke-width="0.41" fill="none"/>
<ellipse cx="196.5" cy="447.2" rx="1.4" ry="7" stroke="#2020ff" stroke-width="0.41" fill="none"/>
<line x1="199.6" y1="440.2" x2="199.6" y2="454.3" stroke="#2020ff" stroke-width="0.34"/>
<ellipse cx="205.6" cy="447.2" rx="1.3" ry="6.3" stroke="#2020ff" stroke-width="0.41" fill="none"/>
<ellipse cx="208.9" cy="447.2" rx="1.3" ry="6.6" stroke="#2020ff" stroke-width="0.41" fill="none"/>
<ellipse cx="212.2" cy="447.2" rx="1.3" ry="6.3" stroke="#2020ff" stroke-width="0.41" fill="none"/>
<line x1="204.3" y1="440.9" x2="213.5" y2="440.9" stroke="#2020ff" stroke-width="0.41"/>
<line x1="204.3" y1="453.5" x2="213.5" y2="453.5" stroke="#2020ff" stroke-width="0.41"/>
<ellipse cx="215.6" cy="447.2" rx="1.4" ry="6.4" stroke="#2020ff" stroke-width="0.41" fill="none"/>
<ellipse cx="218.6" cy="447.2" rx="1.4" ry="6.4" stroke="#2020ff" stroke-width="0.41" fill="none"/>
<ellipse cx="221" cy="447.2" rx="1.2" ry="6" stroke="#2020ff" stroke-width="0.41" fill="none"/>
<line x1="214.5" y1="440.8" x2="222" y2="440.8" stroke="#2020ff" stroke-width="0.41"/>
<line x1="214.5" y1="453.6" x2="222" y2="453.6" stroke="#2020ff" stroke-width="0.41"/>
<line x1="222" y1="421.9" x2="223.5" y2="421.9" stroke="#6a6a6a" stroke-width="0.6"/>
<line x1="222" y1="442.5" x2="223.5" y2="442.5" stroke="#6a6a6a" stroke-width="0.6"/>
<path d="M 243.5 419.5 L 246 428.7 M 243.5 428.7 L 246 419.5" stroke="#ff2020" stroke-width="0.88" fill="none"/>
<circle cx="250.5" cy="424.4" r="4.7" stroke="#ff2020" stroke-width="1.5" fill="#fff"/>
<circle cx="250.5" cy="424.4" r="3.3" stroke="#ff2020" stroke-width="0.27" fill="none"/>
<line x1="249" y1="423" x2="252.2" y2="426" stroke="#ff2020" stroke-width="0.34"/>
<rect x="255.7" y="418.2" width="17.1" height="9.8" stroke="#ff2020" stroke-width="0.41" fill="none"/>
<path d="M 260 418.2 L 260 428 M 264.5 418.2 L 264.5 428 M 268.5 418.2 L 268.5 428 M 261 420 L 263.5 426 M 263.5 420 L 261 426" stroke="#ff2020" stroke-width="0.34" fill="none"/>
<circle cx="266.5" cy="423" r="1.6" stroke="#ff2020" stroke-width="0.34" fill="none"/>
<ellipse cx="273.8" cy="423.2" rx="1.2" ry="4.6" stroke="#ff2020" stroke-width="0.88" fill="none"/>
<path d="M 274.8 412.3 L 291.2 412.3 L 291.2 426 Q 291.2 429.4 287 429.4 L 279 429.4 Q 274.8 429.4 274.8 426 Z" stroke="#ff2020" stroke-width="0.48" fill="none"/>
<rect x="274.4" y="410.3" width="16.8" height="2" stroke="#ff2020" stroke-width="0.41" fill="none"/>
<rect x="277.4" y="402.5" width="11.2" height="7.8" stroke="#ff2020" stroke-width="0.41" fill="none"/>
<path d="M 273.5 399 L 276 397.9 L 287.9 397.9 L 287.9 402.5 L 275.5 402.5 L 273.5 401 Z" stroke="#ff2020" stroke-width="0.41" fill="none"/>
<path d="M 279 397.9 L 279 396.8 L 285 396.8 L 285 397.9" stroke="#ff2020" stroke-width="0.34" fill="none"/>
<path d="M 291.2 418.2 Q 293.8 418.5 293.8 421.5 Q 293.8 424.8 291.2 424.8" stroke="#ff2020" stroke-width="0.48" fill="none"/>
<rect x="281.6" y="429.4" width="2.4" height="1.6" stroke="#ff2020" stroke-width="0.34" fill="none"/>
<path d="M 243.5 440.5 L 246 449.7 M 243.5 449.7 L 246 440.5" stroke="#2020ff" stroke-width="0.88" fill="none"/>
<circle cx="250.5" cy="445.1" r="4.7" stroke="#2020ff" stroke-width="1.5" fill="#fff"/>
<circle cx="250.5" cy="445.1" r="3.3" stroke="#2020ff" stroke-width="0.27" fill="none"/>
<line x1="249" y1="443.6" x2="252.2" y2="446.6" stroke="#2020ff" stroke-width="0.34"/>
<rect x="256.4" y="439.2" width="13.1" height="8.5" stroke="#2020ff" stroke-width="0.41" fill="none"/>
<path d="M 260 439.2 L 260 447.7 M 264 439.2 L 264 447.7 M 261 441 L 263 446 M 263 441 L 261 446" stroke="#2020ff" stroke-width="0.34" fill="none"/>
<circle cx="266.3" cy="443.4" r="1.2" stroke="#2020ff" stroke-width="0.34" fill="none"/>
<ellipse cx="271" cy="443.5" rx="1.6" ry="4.9" stroke="#2020ff" stroke-width="1.09" fill="none"/>
<ellipse cx="274" cy="443.5" rx="1.6" ry="4.9" stroke="#2020ff" stroke-width="1.09" fill="none"/>
<line x1="271" y1="438.6" x2="274" y2="438.6" stroke="#2020ff" stroke-width="0.54"/>
<line x1="271" y1="448.4" x2="274" y2="448.4" stroke="#2020ff" stroke-width="0.54"/>
<ellipse cx="277" cy="442.3" rx="1.4" ry="6.2" stroke="#2020ff" stroke-width="0.41" fill="none"/>
<ellipse cx="279.3" cy="442.3" rx="1.4" ry="6.8" stroke="#2020ff" stroke-width="0.41" fill="none"/>
<ellipse cx="281.6" cy="442.3" rx="1.4" ry="6.5" stroke="#2020ff" stroke-width="0.41" fill="none"/>
<path d="M 283.3 437.9 L 292 437.9 Q 293.8 437.9 293.8 441.8 Q 293.8 445.8 292 445.8 L 283.3 445.8" stroke="#2020ff" stroke-width="0.41" fill="none"/>
<line x1="200" y1="374.6" x2="214" y2="374.6" stroke="#505050" stroke-width="0.6"/>
<line x1="214" y1="374.6" x2="231" y2="393" stroke="#505050" stroke-width="0.55"/>
<text x="202.3" y="374.8" font-size="6.6" fill="#1a1a1a" stroke="#1a1a1a" stroke-width="0.18" textLength="2.7" lengthAdjust="spacingAndGlyphs">3</text>
<line x1="200" y1="385" x2="214" y2="385" stroke="#505050" stroke-width="0.6"/>
<line x1="214" y1="385" x2="231" y2="405" stroke="#505050" stroke-width="0.55"/>
<text x="202.3" y="385.2" font-size="6.6" fill="#1a1a1a" stroke="#1a1a1a" stroke-width="0.18" textLength="5.4" lengthAdjust="spacingAndGlyphs">16</text>
<line x1="200" y1="399" x2="214" y2="399" stroke="#505050" stroke-width="0.6"/>
<line x1="214" y1="399" x2="224" y2="409" stroke="#505050" stroke-width="0.55"/>
<text x="202.3" y="399.2" font-size="6.6" fill="#1a1a1a" stroke="#1a1a1a" stroke-width="0.18" textLength="5.4" lengthAdjust="spacingAndGlyphs">42</text>
<line x1="200" y1="409.4" x2="214" y2="409.4" stroke="#505050" stroke-width="0.6"/>
<line x1="214" y1="409.4" x2="222" y2="421" stroke="#505050" stroke-width="0.55"/>
<text x="202.3" y="409.6" font-size="6.6" fill="#1a1a1a" stroke="#1a1a1a" stroke-width="0.18" textLength="5.4" lengthAdjust="spacingAndGlyphs">20</text>
<line x1="174" y1="407.4" x2="188" y2="407.4" stroke="#505050" stroke-width="0.6"/>
<line x1="188" y1="407.4" x2="211" y2="422" stroke="#505050" stroke-width="0.55"/>
<text x="176.3" y="407.6" font-size="6.6" fill="#1a1a1a" stroke="#1a1a1a" stroke-width="0.18" textLength="5.4" lengthAdjust="spacingAndGlyphs">93</text>
<line x1="174" y1="415" x2="188" y2="415" stroke="#505050" stroke-width="0.6"/>
<line x1="188" y1="415" x2="202" y2="426" stroke="#505050" stroke-width="0.55"/>
<text x="176.3" y="415.2" font-size="6.6" fill="#1a1a1a" stroke="#1a1a1a" stroke-width="0.18" textLength="5.4" lengthAdjust="spacingAndGlyphs">54</text>
<line x1="182" y1="465" x2="196" y2="465" stroke="#505050" stroke-width="0.6"/>
<line x1="196" y1="465" x2="203" y2="448" stroke="#505050" stroke-width="0.55"/>
<text x="184.3" y="465.2" font-size="6.6" fill="#1a1a1a" stroke="#1a1a1a" stroke-width="0.18" textLength="5.4" lengthAdjust="spacingAndGlyphs">54</text>
<line x1="182" y1="472" x2="196" y2="472" stroke="#505050" stroke-width="0.6"/>
<line x1="196" y1="472" x2="210" y2="450" stroke="#505050" stroke-width="0.55"/>
<text x="184.3" y="472.2" font-size="6.6" fill="#1a1a1a" stroke="#1a1a1a" stroke-width="0.18" textLength="5.4" lengthAdjust="spacingAndGlyphs">93</text>
<line x1="182" y1="480" x2="196" y2="480" stroke="#505050" stroke-width="0.6"/>
<line x1="196" y1="480" x2="220" y2="451" stroke="#505050" stroke-width="0.55"/>
<text x="184.3" y="480.2" font-size="6.6" fill="#1a1a1a" stroke="#1a1a1a" stroke-width="0.18" textLength="5.4" lengthAdjust="spacingAndGlyphs">20</text>
<line x1="262" y1="459.3" x2="273.6" y2="459.3" stroke="#505050" stroke-width="0.6"/>
<line x1="262" y1="459.3" x2="257" y2="447.9" stroke="#505050" stroke-width="0.55"/>
<text x="266.2" y="459.5" font-size="6.6" fill="#1a1a1a" stroke="#1a1a1a" stroke-width="0.18" textLength="5.4" lengthAdjust="spacingAndGlyphs">12</text>
<line x1="262" y1="467.1" x2="273.6" y2="467.1" stroke="#505050" stroke-width="0.6"/>
<line x1="262" y1="467.1" x2="252.9" y2="450" stroke="#505050" stroke-width="0.55"/>
<text x="266.2" y="467.3" font-size="6.6" fill="#1a1a1a" stroke="#1a1a1a" stroke-width="0.18" textLength="5.4" lengthAdjust="spacingAndGlyphs">32</text>
<line x1="262" y1="474.3" x2="272.9" y2="474.3" stroke="#505050" stroke-width="0.6"/>
<line x1="262" y1="474.3" x2="245.7" y2="449.3" stroke="#505050" stroke-width="0.55"/>
<text x="265.5" y="474.5" font-size="6.6" fill="#1a1a1a" stroke="#1a1a1a" stroke-width="0.18" textLength="5.4" lengthAdjust="spacingAndGlyphs">68</text>
<line x1="282.9" y1="462" x2="292.9" y2="462" stroke="#505050" stroke-width="0.6"/>
<line x1="282.9" y1="462" x2="272.9" y2="447" stroke="#505050" stroke-width="0.55"/>
<text x="285.5" y="462.2" font-size="6.6" fill="#1a1a1a" stroke="#1a1a1a" stroke-width="0.18" textLength="5.4" lengthAdjust="spacingAndGlyphs">26</text>
<line x1="297" y1="454.3" x2="304.3" y2="454.3" stroke="#505050" stroke-width="0.6"/>
<line x1="297" y1="454.3" x2="282" y2="440.7" stroke="#505050" stroke-width="0.55"/>
<text x="296.9" y="454.5" font-size="6.6" fill="#1a1a1a" stroke="#1a1a1a" stroke-width="0.18" textLength="5.4" lengthAdjust="spacingAndGlyphs">54</text>
<line x1="326" y1="382.6" x2="338" y2="382.6" stroke="#505050" stroke-width="0.6"/>
<line x1="326" y1="382.6" x2="305" y2="417" stroke="#505050" stroke-width="0.55"/>
<text x="330.6" y="382.8" font-size="6.6" fill="#1a1a1a" stroke="#1a1a1a" stroke-width="0.18" textLength="5.4" lengthAdjust="spacingAndGlyphs">12</text>
</svg></body></html>
